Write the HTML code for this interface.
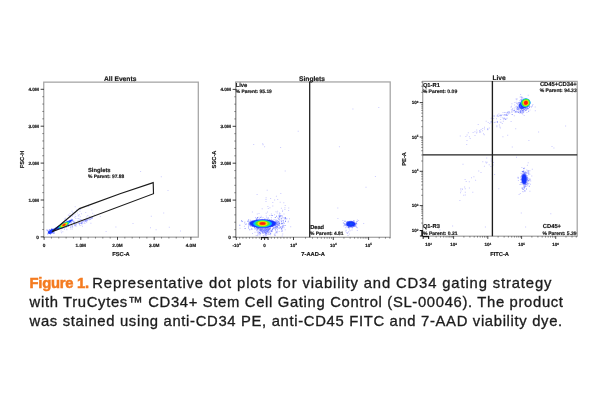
<!DOCTYPE html>
<html><head><meta charset="utf-8"><title>Figure 1</title>
<style>
html,body{margin:0;padding:0;background:#fff;}
body{width:600px;height:400px;position:relative;overflow:hidden;font-family:"Liberation Sans",Arial,sans-serif;}
.cap{position:absolute;left:0;top:0;width:600px;height:400px;will-change:transform;color:#1c1c1c;font-size:14.8px;line-height:18.8px;font-weight:normal;-webkit-text-stroke:0.32px #1c1c1c;}
.cap div{position:absolute;left:29.6px;height:18.8px;white-space:nowrap;}
.cap b{color:#f47b20;-webkit-text-stroke:0.5px #f47b20;letter-spacing:-0.27px;}
</style></head><body>
<svg width="600" height="264" viewBox="0 0 600 264" style="position:absolute;left:0;top:0;will-change:transform" font-family="Liberation Sans, Arial, sans-serif" font-weight="bold" fill="#141414" stroke="#141414" stroke-width="0.16" text-rendering="geometricPrecision">
<defs><filter id="b1" x="-30%" y="-30%" width="160%" height="160%"><feGaussianBlur stdDeviation="0.5"/></filter><filter id="b2" x="-30%" y="-30%" width="160%" height="160%"><feGaussianBlur stdDeviation="0.3"/></filter></defs>
<rect x="43.75" y="82.15" width="154.55" height="155.00" fill="#fff" stroke="#a4a4a4" stroke-width="1.25"/>
<path d="M62.0 227.7h1.0v1.0h-1.0zM93.9 214.6h1.0v1.0h-1.0zM87.3 214.9h1.0v1.0h-1.0zM64.0 224.1h1.0v1.0h-1.0zM65.9 225.5h1.0v1.0h-1.0zM65.0 225.3h1.0v1.0h-1.0zM69.5 213.3h1.0v1.0h-1.0zM76.3 223.0h1.0v1.0h-1.0zM81.5 223.5h1.0v1.0h-1.0zM63.4 226.3h1.0v1.0h-1.0zM60.1 226.7h1.0v1.0h-1.0zM61.9 225.4h1.0v1.0h-1.0zM62.5 223.2h1.0v1.0h-1.0zM61.2 224.5h1.0v1.0h-1.0zM67.6 224.3h1.0v1.0h-1.0zM75.3 218.0h1.0v1.0h-1.0zM77.8 215.6h1.0v1.0h-1.0zM73.2 219.8h1.0v1.0h-1.0zM80.9 213.2h1.0v1.0h-1.0zM60.5 224.8h1.0v1.0h-1.0zM59.8 226.7h1.0v1.0h-1.0zM62.2 226.2h1.0v1.0h-1.0zM67.1 223.6h1.0v1.0h-1.0zM80.7 219.0h1.0v1.0h-1.0zM77.5 218.1h1.0v1.0h-1.0zM92.2 212.8h1.0v1.0h-1.0zM59.1 225.8h1.0v1.0h-1.0zM85.2 212.1h1.0v1.0h-1.0zM60.3 227.8h1.0v1.0h-1.0zM63.3 226.5h1.0v1.0h-1.0zM61.0 228.2h1.0v1.0h-1.0zM70.7 222.2h1.0v1.0h-1.0zM71.3 219.0h1.0v1.0h-1.0zM78.5 218.2h1.0v1.0h-1.0zM77.5 221.6h1.0v1.0h-1.0zM74.3 216.8h1.0v1.0h-1.0zM66.0 220.2h1.0v1.0h-1.0zM63.7 225.3h1.0v1.0h-1.0zM67.5 224.3h1.0v1.0h-1.0zM65.2 224.2h1.0v1.0h-1.0zM79.7 216.2h1.0v1.0h-1.0zM62.6 225.6h1.0v1.0h-1.0zM61.1 225.5h1.0v1.0h-1.0zM63.1 222.8h1.0v1.0h-1.0zM73.2 221.2h1.0v1.0h-1.0zM77.6 220.1h1.0v1.0h-1.0zM64.5 223.2h1.0v1.0h-1.0zM85.5 218.8h1.0v1.0h-1.0zM68.2 224.2h1.0v1.0h-1.0zM91.3 209.4h1.0v1.0h-1.0zM64.4 224.5h1.0v1.0h-1.0zM60.1 227.1h1.0v1.0h-1.0zM60.5 227.6h1.0v1.0h-1.0zM65.0 225.9h1.0v1.0h-1.0zM86.3 216.4h1.0v1.0h-1.0zM67.3 223.1h1.0v1.0h-1.0zM79.6 219.2h1.0v1.0h-1.0zM65.0 225.4h1.0v1.0h-1.0zM79.8 218.9h1.0v1.0h-1.0zM75.2 216.1h1.0v1.0h-1.0zM71.2 218.5h1.0v1.0h-1.0zM61.8 226.7h1.0v1.0h-1.0zM79.3 220.0h1.0v1.0h-1.0zM88.1 205.9h1.0v1.0h-1.0zM77.9 215.4h1.0v1.0h-1.0zM72.0 219.5h1.0v1.0h-1.0zM65.7 224.5h1.0v1.0h-1.0zM85.1 219.7h1.0v1.0h-1.0zM70.7 222.8h1.0v1.0h-1.0zM76.4 222.6h1.0v1.0h-1.0zM88.9 216.1h1.0v1.0h-1.0zM65.4 224.5h1.0v1.0h-1.0zM73.5 222.2h1.0v1.0h-1.0zM67.0 222.5h1.0v1.0h-1.0zM68.2 224.0h1.0v1.0h-1.0zM67.9 224.5h1.0v1.0h-1.0zM62.0 226.3h1.0v1.0h-1.0zM78.9 214.3h1.0v1.0h-1.0zM71.5 210.8h1.0v1.0h-1.0zM59.9 225.8h1.0v1.0h-1.0zM60.9 232.2h1.0v1.0h-1.0zM70.3 228.5h1.0v1.0h-1.0zM76.1 225.5h1.0v1.0h-1.0zM75.0 225.2h1.0v1.0h-1.0zM63.9 229.1h1.0v1.0h-1.0zM82.0 225.8h1.0v1.0h-1.0zM80.3 225.0h1.0v1.0h-1.0zM99.8 216.0h1.0v1.0h-1.0zM85.5 221.2h1.0v1.0h-1.0zM83.9 222.2h1.0v1.0h-1.0zM90.4 222.7h1.0v1.0h-1.0zM66.4 229.2h1.0v1.0h-1.0zM78.9 224.4h1.0v1.0h-1.0zM84.4 223.0h1.0v1.0h-1.0zM62.3 231.3h1.0v1.0h-1.0zM81.1 223.2h1.0v1.0h-1.0zM83.9 222.4h1.0v1.0h-1.0zM86.2 221.7h1.0v1.0h-1.0zM82.4 222.7h1.0v1.0h-1.0zM71.8 228.6h1.0v1.0h-1.0zM60.6 230.4h1.0v1.0h-1.0zM66.3 228.7h1.0v1.0h-1.0zM77.7 214.5h1.0v1.0h-1.0zM80.0 209.1h1.0v1.0h-1.0zM79.4 210.7h1.0v1.0h-1.0zM72.1 215.4h1.0v1.0h-1.0zM68.1 214.8h1.0v1.0h-1.0zM72.4 214.6h1.0v1.0h-1.0zM62.3 221.9h1.0v1.0h-1.0zM69.1 215.0h1.0v1.0h-1.0zM67.8 214.5h1.0v1.0h-1.0zM74.8 212.2h1.0v1.0h-1.0zM76.2 209.3h1.0v1.0h-1.0zM72.2 212.2h1.0v1.0h-1.0zM72.3 214.3h1.0v1.0h-1.0zM74.7 206.2h1.0v1.0h-1.0zM63.2 222.8h1.0v1.0h-1.0zM71.7 215.8h1.0v1.0h-1.0zM74.5 214.3h1.0v1.0h-1.0zM63.9 218.6h1.0v1.0h-1.0zM76.3 210.0h1.0v1.0h-1.0zM76.8 212.6h1.0v1.0h-1.0zM65.0 217.8h1.0v1.0h-1.0zM67.4 220.5h1.0v1.0h-1.0zM79.4 209.1h1.0v1.0h-1.0zM63.0 221.5h1.0v1.0h-1.0zM69.7 216.8h1.0v1.0h-1.0zM65.2 220.6h1.0v1.0h-1.0zM163.2 212.6h1.0v1.0h-1.0zM105.6 231.0h1.0v1.0h-1.0zM150.8 215.8h1.0v1.0h-1.0zM132.5 223.1h1.0v1.0h-1.0zM155.6 229.3h1.0v1.0h-1.0zM115.4 226.4h1.0v1.0h-1.0zM150.0 227.3h1.0v1.0h-1.0zM168.8 226.7h1.0v1.0h-1.0zM180.0 230.6h1.0v1.0h-1.0zM160.8 176.2h1.0v1.0h-1.0zM167.5 190.1h1.0v1.0h-1.0zM140.1 171.0h1.0v1.0h-1.0z" fill="#5656ff" fill-opacity="0.3" stroke="none"/>
<path d="M65.6 227.1h1.0v1.0h-1.0zM65.9 225.2h1.0v1.0h-1.0zM60.7 227.0h1.0v1.0h-1.0zM60.3 226.5h1.0v1.0h-1.0zM61.6 227.5h1.0v1.0h-1.0zM65.3 223.3h1.0v1.0h-1.0zM60.0 227.1h1.0v1.0h-1.0zM62.7 225.6h1.0v1.0h-1.0zM70.4 219.6h1.0v1.0h-1.0zM59.1 226.3h1.0v1.0h-1.0zM63.5 224.6h1.0v1.0h-1.0zM67.5 222.8h1.0v1.0h-1.0zM70.4 220.2h1.0v1.0h-1.0zM61.8 227.4h1.0v1.0h-1.0zM70.5 222.2h1.0v1.0h-1.0zM67.3 221.7h1.0v1.0h-1.0zM73.2 221.4h1.0v1.0h-1.0zM65.6 219.7h1.0v1.0h-1.0zM63.0 225.7h1.0v1.0h-1.0zM66.4 223.0h1.0v1.0h-1.0zM64.5 223.6h1.0v1.0h-1.0zM64.5 225.6h1.0v1.0h-1.0zM60.1 226.6h1.0v1.0h-1.0zM65.6 222.7h1.0v1.0h-1.0zM61.2 225.7h1.0v1.0h-1.0zM60.3 227.0h1.0v1.0h-1.0zM63.7 225.8h1.0v1.0h-1.0zM67.5 225.2h1.0v1.0h-1.0zM67.0 224.5h1.0v1.0h-1.0zM67.7 224.1h1.0v1.0h-1.0zM67.8 225.9h1.0v1.0h-1.0zM70.0 220.1h1.0v1.0h-1.0zM63.1 225.9h1.0v1.0h-1.0zM62.3 224.9h1.0v1.0h-1.0zM62.1 225.5h1.0v1.0h-1.0zM61.2 225.5h1.0v1.0h-1.0zM66.9 224.4h1.0v1.0h-1.0zM60.2 225.5h1.0v1.0h-1.0zM59.9 227.0h1.0v1.0h-1.0zM68.6 221.7h1.0v1.0h-1.0zM59.5 226.6h1.0v1.0h-1.0zM69.3 221.3h1.0v1.0h-1.0zM68.5 221.0h1.0v1.0h-1.0zM59.9 225.9h1.0v1.0h-1.0zM74.2 221.7h1.0v1.0h-1.0zM72.3 220.7h1.0v1.0h-1.0zM60.8 227.5h1.0v1.0h-1.0zM66.0 223.7h1.0v1.0h-1.0zM73.9 222.2h1.0v1.0h-1.0zM60.6 226.1h1.0v1.0h-1.0zM64.9 223.9h1.0v1.0h-1.0zM65.8 224.2h1.0v1.0h-1.0zM66.9 224.9h1.0v1.0h-1.0zM62.8 224.1h1.0v1.0h-1.0zM61.7 226.5h1.0v1.0h-1.0zM65.6 224.3h1.0v1.0h-1.0zM60.5 227.4h1.0v1.0h-1.0zM62.5 222.8h1.0v1.0h-1.0zM65.2 225.2h1.0v1.0h-1.0zM63.7 223.9h1.0v1.0h-1.0zM63.7 227.6h1.0v1.0h-1.0zM60.1 227.4h1.0v1.0h-1.0zM62.0 226.5h1.0v1.0h-1.0zM68.0 224.2h1.0v1.0h-1.0zM69.3 220.2h1.0v1.0h-1.0zM61.1 225.7h1.0v1.0h-1.0zM64.8 225.6h1.0v1.0h-1.0zM60.8 226.0h1.0v1.0h-1.0zM63.6 227.5h1.0v1.0h-1.0zM60.9 226.6h1.0v1.0h-1.0zM79.3 222.6h1.0v1.0h-1.0zM78.9 222.4h1.0v1.0h-1.0zM85.1 220.7h1.0v1.0h-1.0zM85.0 220.4h1.0v1.0h-1.0zM90.1 218.7h1.0v1.0h-1.0zM81.1 221.8h1.0v1.0h-1.0zM86.7 218.8h1.0v1.0h-1.0zM74.2 224.4h1.0v1.0h-1.0zM71.6 225.6h1.0v1.0h-1.0zM82.1 221.5h1.0v1.0h-1.0zM81.3 221.4h1.0v1.0h-1.0zM74.1 224.3h1.0v1.0h-1.0zM74.5 225.3h1.0v1.0h-1.0zM90.4 216.8h1.0v1.0h-1.0zM72.1 226.6h1.0v1.0h-1.0zM80.2 222.7h1.0v1.0h-1.0zM86.8 219.4h1.0v1.0h-1.0zM81.3 222.3h1.0v1.0h-1.0zM79.5 222.4h1.0v1.0h-1.0zM85.4 220.1h1.0v1.0h-1.0zM88.6 219.3h1.0v1.0h-1.0zM86.3 220.5h1.0v1.0h-1.0zM78.9 222.8h1.0v1.0h-1.0zM81.3 222.1h1.0v1.0h-1.0zM70.3 226.7h1.0v1.0h-1.0zM85.5 219.5h1.0v1.0h-1.0zM88.9 218.5h1.0v1.0h-1.0zM83.2 220.6h1.0v1.0h-1.0zM81.1 222.9h1.0v1.0h-1.0zM75.7 223.8h1.0v1.0h-1.0zM90.0 218.4h1.0v1.0h-1.0zM87.9 218.2h1.0v1.0h-1.0zM78.9 223.6h1.0v1.0h-1.0zM85.3 219.5h1.0v1.0h-1.0zM86.9 219.7h1.0v1.0h-1.0zM85.9 219.4h1.0v1.0h-1.0zM71.6 225.1h1.0v1.0h-1.0zM70.2 226.5h1.0v1.0h-1.0zM77.8 222.5h1.0v1.0h-1.0zM75.1 223.4h1.0v1.0h-1.0zM90.8 217.9h1.0v1.0h-1.0zM84.5 220.1h1.0v1.0h-1.0zM82.5 220.7h1.0v1.0h-1.0zM92.0 217.6h1.0v1.0h-1.0zM84.1 220.4h1.0v1.0h-1.0zM91.6 216.9h1.0v1.0h-1.0zM49.9 233.7h1.0v1.0h-1.0zM50.4 230.1h1.0v1.0h-1.0zM52.2 232.5h1.0v1.0h-1.0zM50.7 229.8h1.0v1.0h-1.0zM53.3 233.0h1.0v1.0h-1.0zM46.9 229.8h1.0v1.0h-1.0zM55.1 230.0h1.0v1.0h-1.0zM47.7 232.4h1.0v1.0h-1.0zM50.4 232.6h1.0v1.0h-1.0zM47.2 233.5h1.0v1.0h-1.0zM52.2 230.6h1.0v1.0h-1.0zM49.8 232.5h1.0v1.0h-1.0zM49.7 232.5h1.0v1.0h-1.0zM50.0 232.0h1.0v1.0h-1.0zM47.7 230.2h1.0v1.0h-1.0zM47.3 230.5h1.0v1.0h-1.0zM49.8 230.9h1.0v1.0h-1.0zM51.2 228.0h1.0v1.0h-1.0zM50.9 231.6h1.0v1.0h-1.0zM48.5 231.1h1.0v1.0h-1.0zM46.3 229.6h1.0v1.0h-1.0zM48.9 228.9h1.0v1.0h-1.0zM53.3 232.1h1.0v1.0h-1.0zM51.2 230.6h1.0v1.0h-1.0zM53.8 232.6h1.0v1.0h-1.0zM51.7 230.9h1.0v1.0h-1.0zM50.3 230.6h1.0v1.0h-1.0zM50.9 229.0h1.0v1.0h-1.0zM51.0 232.4h1.0v1.0h-1.0zM51.2 229.4h1.0v1.0h-1.0z" fill="#3c46ff" fill-opacity="0.5" stroke="none"/>
<g filter="url(#b1)">
<ellipse cx="51.30" cy="231.40" rx="3.70" ry="1.80" fill="#1434ff" fill-opacity="1" stroke="none" transform="rotate(-30 51.30 231.40)"/>
<ellipse cx="61.50" cy="225.90" rx="13.00" ry="1.55" fill="#1434ff" fill-opacity="0.9" stroke="none" transform="rotate(-28.5 61.50 225.90)"/>
<ellipse cx="63.50" cy="225.00" rx="8.20" ry="1.60" fill="#1434ff" fill-opacity="1" stroke="none" transform="rotate(-28.5 63.50 225.00)"/>
</g><g filter="url(#b2)">
<ellipse cx="64.00" cy="224.90" rx="6.60" ry="1.75" fill="#00b0ff" fill-opacity="1" stroke="none" transform="rotate(-28.5 64.00 224.90)"/>
<ellipse cx="64.00" cy="224.90" rx="5.60" ry="1.60" fill="#18dcb0" fill-opacity="1" stroke="none" transform="rotate(-28.5 64.00 224.90)"/>
<ellipse cx="64.00" cy="224.90" rx="4.70" ry="1.45" fill="#62e426" fill-opacity="1" stroke="none" transform="rotate(-28.5 64.00 224.90)"/>
<ellipse cx="64.00" cy="224.90" rx="3.50" ry="1.25" fill="#f2ee00" fill-opacity="1" stroke="none" transform="rotate(-28.5 64.00 224.90)"/>
<ellipse cx="64.00" cy="224.90" rx="2.40" ry="1.05" fill="#ff8400" fill-opacity="1" stroke="none" transform="rotate(-28.5 64.00 224.90)"/>
<ellipse cx="64.00" cy="224.90" rx="1.50" ry="0.85" fill="#ff1a0c" fill-opacity="1" stroke="none" transform="rotate(-28.5 64.00 224.90)"/>
</g>
<polygon points="52.0,231.8 79.5,208.6 120,193.8 153.2,182.6 153.5,193.7" fill="none" stroke="#1a1a1a" stroke-width="1.15" stroke-linejoin="miter"/>
<text x="88.00" y="171.70" font-size="5.8" text-anchor="start" >Singlets</text>
<text x="88.00" y="177.50" font-size="4.9" text-anchor="start" >% Parent: 97.88</text>
<text x="120.20" y="80.80" font-size="6.7" text-anchor="middle" >All Events</text>
<line x1="40.65" y1="236.90" x2="43.95" y2="236.90" stroke="#1a1a1a" stroke-width="0.85"/>
<text x="38.85" y="238.65" font-size="4.7" text-anchor="end" >0</text>
<line x1="42.25" y1="229.52" x2="43.95" y2="229.52" stroke="#444" stroke-width="0.6"/>
<line x1="42.25" y1="222.14" x2="43.95" y2="222.14" stroke="#444" stroke-width="0.6"/>
<line x1="42.25" y1="214.76" x2="43.95" y2="214.76" stroke="#444" stroke-width="0.6"/>
<line x1="42.25" y1="207.38" x2="43.95" y2="207.38" stroke="#444" stroke-width="0.6"/>
<line x1="40.65" y1="200.00" x2="43.95" y2="200.00" stroke="#1a1a1a" stroke-width="0.85"/>
<text x="38.85" y="201.75" font-size="4.7" text-anchor="end" >1.0M</text>
<line x1="42.25" y1="192.62" x2="43.95" y2="192.62" stroke="#444" stroke-width="0.6"/>
<line x1="42.25" y1="185.24" x2="43.95" y2="185.24" stroke="#444" stroke-width="0.6"/>
<line x1="42.25" y1="177.86" x2="43.95" y2="177.86" stroke="#444" stroke-width="0.6"/>
<line x1="42.25" y1="170.48" x2="43.95" y2="170.48" stroke="#444" stroke-width="0.6"/>
<line x1="40.65" y1="163.10" x2="43.95" y2="163.10" stroke="#1a1a1a" stroke-width="0.85"/>
<text x="38.85" y="164.85" font-size="4.7" text-anchor="end" >2.0M</text>
<line x1="42.25" y1="155.72" x2="43.95" y2="155.72" stroke="#444" stroke-width="0.6"/>
<line x1="42.25" y1="148.34" x2="43.95" y2="148.34" stroke="#444" stroke-width="0.6"/>
<line x1="42.25" y1="140.96" x2="43.95" y2="140.96" stroke="#444" stroke-width="0.6"/>
<line x1="42.25" y1="133.58" x2="43.95" y2="133.58" stroke="#444" stroke-width="0.6"/>
<line x1="40.65" y1="126.20" x2="43.95" y2="126.20" stroke="#1a1a1a" stroke-width="0.85"/>
<text x="38.85" y="127.95" font-size="4.7" text-anchor="end" >3.0M</text>
<line x1="42.25" y1="118.82" x2="43.95" y2="118.82" stroke="#444" stroke-width="0.6"/>
<line x1="42.25" y1="111.44" x2="43.95" y2="111.44" stroke="#444" stroke-width="0.6"/>
<line x1="42.25" y1="104.06" x2="43.95" y2="104.06" stroke="#444" stroke-width="0.6"/>
<line x1="42.25" y1="96.68" x2="43.95" y2="96.68" stroke="#444" stroke-width="0.6"/>
<line x1="40.65" y1="89.30" x2="43.95" y2="89.30" stroke="#1a1a1a" stroke-width="0.85"/>
<text x="38.85" y="91.05" font-size="4.7" text-anchor="end" >4.0M</text>
<line x1="44.10" y1="236.95" x2="44.10" y2="239.85" stroke="#1a1a1a" stroke-width="0.8"/>
<text x="44.10" y="246.70" font-size="4.7" text-anchor="middle" >0</text>
<line x1="51.44" y1="236.95" x2="51.44" y2="238.55" stroke="#444" stroke-width="0.6"/>
<line x1="58.78" y1="236.95" x2="58.78" y2="238.55" stroke="#444" stroke-width="0.6"/>
<line x1="66.12" y1="236.95" x2="66.12" y2="238.55" stroke="#444" stroke-width="0.6"/>
<line x1="73.46" y1="236.95" x2="73.46" y2="238.55" stroke="#444" stroke-width="0.6"/>
<line x1="80.80" y1="236.95" x2="80.80" y2="239.85" stroke="#1a1a1a" stroke-width="0.8"/>
<text x="80.80" y="246.70" font-size="4.7" text-anchor="middle" >1.0M</text>
<line x1="88.14" y1="236.95" x2="88.14" y2="238.55" stroke="#444" stroke-width="0.6"/>
<line x1="95.48" y1="236.95" x2="95.48" y2="238.55" stroke="#444" stroke-width="0.6"/>
<line x1="102.82" y1="236.95" x2="102.82" y2="238.55" stroke="#444" stroke-width="0.6"/>
<line x1="110.16" y1="236.95" x2="110.16" y2="238.55" stroke="#444" stroke-width="0.6"/>
<line x1="117.50" y1="236.95" x2="117.50" y2="239.85" stroke="#1a1a1a" stroke-width="0.8"/>
<text x="117.50" y="246.70" font-size="4.7" text-anchor="middle" >2.0M</text>
<line x1="124.84" y1="236.95" x2="124.84" y2="238.55" stroke="#444" stroke-width="0.6"/>
<line x1="132.18" y1="236.95" x2="132.18" y2="238.55" stroke="#444" stroke-width="0.6"/>
<line x1="139.52" y1="236.95" x2="139.52" y2="238.55" stroke="#444" stroke-width="0.6"/>
<line x1="146.86" y1="236.95" x2="146.86" y2="238.55" stroke="#444" stroke-width="0.6"/>
<line x1="154.20" y1="236.95" x2="154.20" y2="239.85" stroke="#1a1a1a" stroke-width="0.8"/>
<text x="154.20" y="246.70" font-size="4.7" text-anchor="middle" >3.0M</text>
<line x1="161.54" y1="236.95" x2="161.54" y2="238.55" stroke="#444" stroke-width="0.6"/>
<line x1="168.88" y1="236.95" x2="168.88" y2="238.55" stroke="#444" stroke-width="0.6"/>
<line x1="176.22" y1="236.95" x2="176.22" y2="238.55" stroke="#444" stroke-width="0.6"/>
<line x1="183.56" y1="236.95" x2="183.56" y2="238.55" stroke="#444" stroke-width="0.6"/>
<line x1="190.90" y1="236.95" x2="190.90" y2="239.85" stroke="#1a1a1a" stroke-width="0.8"/>
<text x="190.90" y="246.70" font-size="4.7" text-anchor="middle" >4.0M</text>
<text x="121.00" y="256.40" font-size="5.75" text-anchor="middle" >FSC-A</text>
<text x="0.00" y="0.00" font-size="5.75" text-anchor="middle" transform="translate(23.5 159.5) rotate(-90)">FSC-H</text>
<rect x="235.75" y="81.95" width="154.45" height="155.35" fill="#fff" stroke="#a4a4a4" stroke-width="1.25"/>
<path d="M272.2 228.8h1.0v1.0h-1.0zM271.9 223.6h1.0v1.0h-1.0zM266.7 226.0h1.0v1.0h-1.0zM257.9 225.2h1.0v1.0h-1.0zM266.8 223.5h1.0v1.0h-1.0zM262.5 225.6h1.0v1.0h-1.0zM255.5 218.5h1.0v1.0h-1.0zM265.3 225.0h1.0v1.0h-1.0zM253.5 225.1h1.0v1.0h-1.0zM265.9 223.2h1.0v1.0h-1.0zM268.1 225.3h1.0v1.0h-1.0zM265.2 226.5h1.0v1.0h-1.0zM261.7 218.8h1.0v1.0h-1.0zM264.9 226.2h1.0v1.0h-1.0zM263.0 226.1h1.0v1.0h-1.0zM264.3 220.5h1.0v1.0h-1.0zM249.6 221.7h1.0v1.0h-1.0zM257.7 224.2h1.0v1.0h-1.0zM277.8 218.3h1.0v1.0h-1.0zM258.4 227.8h1.0v1.0h-1.0zM273.1 222.6h1.0v1.0h-1.0zM264.5 225.0h1.0v1.0h-1.0zM277.9 221.6h1.0v1.0h-1.0zM256.5 226.9h1.0v1.0h-1.0zM257.5 223.5h1.0v1.0h-1.0zM276.0 223.5h1.0v1.0h-1.0zM264.1 224.4h1.0v1.0h-1.0zM256.2 224.4h1.0v1.0h-1.0zM267.8 218.1h1.0v1.0h-1.0zM260.2 222.4h1.0v1.0h-1.0zM268.0 226.6h1.0v1.0h-1.0zM263.0 231.5h1.0v1.0h-1.0zM252.4 223.3h1.0v1.0h-1.0zM270.5 223.7h1.0v1.0h-1.0zM259.4 223.3h1.0v1.0h-1.0zM264.1 223.6h1.0v1.0h-1.0zM270.9 217.2h1.0v1.0h-1.0zM265.5 222.4h1.0v1.0h-1.0zM262.4 229.8h1.0v1.0h-1.0zM271.7 226.3h1.0v1.0h-1.0zM243.9 225.7h1.0v1.0h-1.0zM250.2 219.9h1.0v1.0h-1.0zM259.2 230.1h1.0v1.0h-1.0zM248.1 228.0h1.0v1.0h-1.0zM276.9 227.6h1.0v1.0h-1.0zM266.7 228.4h1.0v1.0h-1.0zM259.3 223.4h1.0v1.0h-1.0zM267.5 220.9h1.0v1.0h-1.0zM262.8 225.2h1.0v1.0h-1.0zM260.8 227.8h1.0v1.0h-1.0zM262.3 220.3h1.0v1.0h-1.0zM262.5 222.1h1.0v1.0h-1.0zM256.8 226.4h1.0v1.0h-1.0zM279.1 222.3h1.0v1.0h-1.0zM263.3 223.3h1.0v1.0h-1.0zM254.8 228.0h1.0v1.0h-1.0zM264.8 228.7h1.0v1.0h-1.0zM262.9 223.9h1.0v1.0h-1.0zM278.7 223.4h1.0v1.0h-1.0zM267.0 228.9h1.0v1.0h-1.0zM262.0 227.4h1.0v1.0h-1.0zM257.3 223.0h1.0v1.0h-1.0zM259.7 227.0h1.0v1.0h-1.0zM260.8 221.3h1.0v1.0h-1.0zM268.1 229.7h1.0v1.0h-1.0zM254.5 231.8h1.0v1.0h-1.0zM251.9 221.5h1.0v1.0h-1.0zM256.5 230.0h1.0v1.0h-1.0zM267.8 224.9h1.0v1.0h-1.0zM274.2 227.0h1.0v1.0h-1.0zM262.7 221.5h1.0v1.0h-1.0zM251.2 228.0h1.0v1.0h-1.0zM261.0 222.9h1.0v1.0h-1.0zM264.7 226.0h1.0v1.0h-1.0zM270.0 226.5h1.0v1.0h-1.0zM280.6 227.6h1.0v1.0h-1.0zM255.2 225.8h1.0v1.0h-1.0zM255.6 218.6h1.0v1.0h-1.0zM267.5 220.4h1.0v1.0h-1.0zM259.9 227.2h1.0v1.0h-1.0zM272.3 224.2h1.0v1.0h-1.0zM256.8 213.6h1.0v1.0h-1.0zM267.0 218.4h1.0v1.0h-1.0zM262.8 223.3h1.0v1.0h-1.0zM260.3 226.8h1.0v1.0h-1.0zM261.7 222.3h1.0v1.0h-1.0zM257.0 227.0h1.0v1.0h-1.0zM267.7 216.9h1.0v1.0h-1.0zM260.3 222.4h1.0v1.0h-1.0zM265.8 215.6h1.0v1.0h-1.0zM256.7 222.7h1.0v1.0h-1.0zM259.5 223.8h1.0v1.0h-1.0zM258.5 212.9h1.0v1.0h-1.0zM251.1 223.2h1.0v1.0h-1.0zM266.8 221.6h1.0v1.0h-1.0zM274.8 222.0h1.0v1.0h-1.0zM265.1 225.3h1.0v1.0h-1.0zM264.4 228.8h1.0v1.0h-1.0zM261.6 220.6h1.0v1.0h-1.0zM271.0 222.2h1.0v1.0h-1.0zM259.9 224.3h1.0v1.0h-1.0zM268.4 223.5h1.0v1.0h-1.0zM272.5 221.1h1.0v1.0h-1.0zM254.2 222.0h1.0v1.0h-1.0zM262.4 232.1h1.0v1.0h-1.0zM279.1 223.5h1.0v1.0h-1.0zM260.6 222.6h1.0v1.0h-1.0zM267.1 221.0h1.0v1.0h-1.0zM268.9 222.1h1.0v1.0h-1.0zM250.2 220.6h1.0v1.0h-1.0zM268.1 228.2h1.0v1.0h-1.0zM265.9 224.2h1.0v1.0h-1.0zM274.3 233.9h1.0v1.0h-1.0zM275.2 221.7h1.0v1.0h-1.0zM259.7 229.1h1.0v1.0h-1.0zM263.4 220.1h1.0v1.0h-1.0zM251.6 220.1h1.0v1.0h-1.0zM269.4 224.1h1.0v1.0h-1.0zM259.5 224.2h1.0v1.0h-1.0zM256.0 227.0h1.0v1.0h-1.0zM268.6 227.9h1.0v1.0h-1.0zM263.1 228.7h1.0v1.0h-1.0zM258.2 228.5h1.0v1.0h-1.0zM275.9 225.1h1.0v1.0h-1.0zM276.7 231.4h1.0v1.0h-1.0zM256.5 221.3h1.0v1.0h-1.0zM254.3 226.6h1.0v1.0h-1.0zM258.9 217.9h1.0v1.0h-1.0zM264.1 219.4h1.0v1.0h-1.0zM279.6 223.6h1.0v1.0h-1.0zM269.2 220.7h1.0v1.0h-1.0zM254.3 225.8h1.0v1.0h-1.0zM272.3 221.2h1.0v1.0h-1.0zM255.4 223.2h1.0v1.0h-1.0zM269.9 221.9h1.0v1.0h-1.0zM276.4 225.9h1.0v1.0h-1.0zM274.8 220.2h1.0v1.0h-1.0zM252.8 220.2h1.0v1.0h-1.0zM260.3 228.6h1.0v1.0h-1.0zM267.8 224.6h1.0v1.0h-1.0zM254.8 225.3h1.0v1.0h-1.0zM261.9 224.6h1.0v1.0h-1.0zM260.6 219.4h1.0v1.0h-1.0zM264.5 227.0h1.0v1.0h-1.0zM259.2 225.5h1.0v1.0h-1.0zM280.4 227.3h1.0v1.0h-1.0zM275.9 222.6h1.0v1.0h-1.0zM269.7 220.8h1.0v1.0h-1.0zM266.0 221.3h1.0v1.0h-1.0zM263.8 218.9h1.0v1.0h-1.0zM267.1 222.8h1.0v1.0h-1.0zM265.1 221.9h1.0v1.0h-1.0zM244.4 221.6h1.0v1.0h-1.0zM270.1 223.8h1.0v1.0h-1.0zM261.8 227.0h1.0v1.0h-1.0zM280.1 226.9h1.0v1.0h-1.0zM267.3 220.3h1.0v1.0h-1.0zM257.2 227.8h1.0v1.0h-1.0zM266.0 224.1h1.0v1.0h-1.0zM269.7 221.9h1.0v1.0h-1.0zM244.9 223.9h1.0v1.0h-1.0zM273.2 223.2h1.0v1.0h-1.0zM265.9 226.9h1.0v1.0h-1.0zM279.5 220.0h1.0v1.0h-1.0zM269.3 230.6h1.0v1.0h-1.0zM258.4 227.2h1.0v1.0h-1.0zM272.0 230.7h1.0v1.0h-1.0zM269.5 223.7h1.0v1.0h-1.0zM260.4 222.0h1.0v1.0h-1.0zM265.9 223.0h1.0v1.0h-1.0zM274.4 227.6h1.0v1.0h-1.0zM257.2 231.3h1.0v1.0h-1.0zM272.8 219.4h1.0v1.0h-1.0zM272.4 228.2h1.0v1.0h-1.0zM272.2 222.2h1.0v1.0h-1.0zM269.1 225.1h1.0v1.0h-1.0zM259.5 229.4h1.0v1.0h-1.0zM265.7 226.1h1.0v1.0h-1.0zM265.1 229.4h1.0v1.0h-1.0zM266.0 220.2h1.0v1.0h-1.0zM255.1 217.1h1.0v1.0h-1.0zM259.0 222.3h1.0v1.0h-1.0zM258.1 232.0h1.0v1.0h-1.0zM260.7 221.1h1.0v1.0h-1.0zM261.7 222.5h1.0v1.0h-1.0zM272.8 223.4h1.0v1.0h-1.0zM254.1 223.0h1.0v1.0h-1.0zM274.6 225.2h1.0v1.0h-1.0zM262.7 226.6h1.0v1.0h-1.0zM265.1 222.3h1.0v1.0h-1.0zM261.0 230.0h1.0v1.0h-1.0zM264.2 226.9h1.0v1.0h-1.0zM259.0 223.1h1.0v1.0h-1.0zM283.4 217.0h1.0v1.0h-1.0zM272.9 224.7h1.0v1.0h-1.0zM264.0 220.1h1.0v1.0h-1.0zM272.7 221.9h1.0v1.0h-1.0zM268.5 228.2h1.0v1.0h-1.0zM259.3 221.0h1.0v1.0h-1.0zM256.2 218.2h1.0v1.0h-1.0zM254.3 223.3h1.0v1.0h-1.0zM271.0 219.0h1.0v1.0h-1.0zM244.0 222.6h1.0v1.0h-1.0zM270.6 229.7h1.0v1.0h-1.0zM269.7 228.3h1.0v1.0h-1.0zM264.8 227.9h1.0v1.0h-1.0zM266.1 217.2h1.0v1.0h-1.0zM265.5 221.1h1.0v1.0h-1.0zM258.2 224.0h1.0v1.0h-1.0zM255.6 221.6h1.0v1.0h-1.0zM274.8 224.9h1.0v1.0h-1.0zM261.6 219.0h1.0v1.0h-1.0zM267.6 222.1h1.0v1.0h-1.0zM264.9 224.4h1.0v1.0h-1.0zM255.2 223.9h1.0v1.0h-1.0zM258.0 224.9h1.0v1.0h-1.0zM265.0 222.4h1.0v1.0h-1.0zM272.9 221.1h1.0v1.0h-1.0zM250.0 222.0h1.0v1.0h-1.0zM264.3 225.9h1.0v1.0h-1.0zM263.1 224.8h1.0v1.0h-1.0zM259.5 228.7h1.0v1.0h-1.0zM257.7 223.3h1.0v1.0h-1.0zM261.0 222.9h1.0v1.0h-1.0zM266.2 221.7h1.0v1.0h-1.0zM263.9 226.0h1.0v1.0h-1.0zM258.4 217.1h1.0v1.0h-1.0zM264.7 222.5h1.0v1.0h-1.0zM257.4 225.7h1.0v1.0h-1.0zM268.6 233.7h1.0v1.0h-1.0zM273.2 225.0h1.0v1.0h-1.0zM265.7 212.7h1.0v1.0h-1.0zM269.6 227.1h1.0v1.0h-1.0zM263.9 222.7h1.0v1.0h-1.0zM265.0 231.8h1.0v1.0h-1.0zM269.2 226.7h1.0v1.0h-1.0zM261.4 227.6h1.0v1.0h-1.0zM265.9 224.3h1.0v1.0h-1.0zM277.9 223.6h1.0v1.0h-1.0zM263.4 221.1h1.0v1.0h-1.0zM263.8 228.6h1.0v1.0h-1.0zM264.5 228.0h1.0v1.0h-1.0zM271.1 222.3h1.0v1.0h-1.0zM252.0 233.0h1.0v1.0h-1.0zM262.2 223.1h1.0v1.0h-1.0zM254.3 226.9h1.0v1.0h-1.0zM271.0 225.1h1.0v1.0h-1.0zM258.4 216.7h1.0v1.0h-1.0zM249.6 219.5h1.0v1.0h-1.0zM256.0 224.7h1.0v1.0h-1.0zM268.4 220.7h1.0v1.0h-1.0zM265.1 221.2h1.0v1.0h-1.0zM261.0 225.8h1.0v1.0h-1.0zM259.3 223.1h1.0v1.0h-1.0zM265.6 226.3h1.0v1.0h-1.0zM257.1 224.5h1.0v1.0h-1.0zM239.5 227.7h1.0v1.0h-1.0zM257.0 217.0h1.0v1.0h-1.0zM266.3 227.4h1.0v1.0h-1.0zM275.3 226.4h1.0v1.0h-1.0zM262.4 232.4h1.0v1.0h-1.0zM268.1 230.7h1.0v1.0h-1.0zM264.6 233.7h1.0v1.0h-1.0zM272.0 228.2h1.0v1.0h-1.0zM264.4 233.5h1.0v1.0h-1.0zM259.6 234.7h1.0v1.0h-1.0zM263.2 223.6h1.0v1.0h-1.0zM269.4 230.9h1.0v1.0h-1.0zM263.4 231.4h1.0v1.0h-1.0zM268.3 228.6h1.0v1.0h-1.0zM265.8 226.7h1.0v1.0h-1.0zM269.7 231.6h1.0v1.0h-1.0zM265.1 231.4h1.0v1.0h-1.0zM268.9 234.0h1.0v1.0h-1.0zM269.2 231.0h1.0v1.0h-1.0zM259.4 232.3h1.0v1.0h-1.0zM270.1 234.3h1.0v1.0h-1.0zM264.5 235.6h1.0v1.0h-1.0zM263.6 228.9h1.0v1.0h-1.0zM266.1 233.0h1.0v1.0h-1.0zM263.8 227.3h1.0v1.0h-1.0zM257.4 234.7h1.0v1.0h-1.0zM265.6 233.1h1.0v1.0h-1.0zM263.0 232.3h1.0v1.0h-1.0zM266.1 230.7h1.0v1.0h-1.0zM260.6 227.5h1.0v1.0h-1.0zM269.9 222.4h1.0v1.0h-1.0zM262.8 235.1h1.0v1.0h-1.0zM268.0 229.4h1.0v1.0h-1.0zM262.2 226.1h1.0v1.0h-1.0zM274.7 228.7h1.0v1.0h-1.0zM265.7 235.0h1.0v1.0h-1.0zM269.5 232.3h1.0v1.0h-1.0zM263.6 231.2h1.0v1.0h-1.0zM261.7 232.4h1.0v1.0h-1.0zM260.9 230.5h1.0v1.0h-1.0zM267.8 233.2h1.0v1.0h-1.0zM262.0 230.8h1.0v1.0h-1.0zM263.1 228.5h1.0v1.0h-1.0zM268.8 232.1h1.0v1.0h-1.0zM262.5 231.4h1.0v1.0h-1.0zM258.3 228.0h1.0v1.0h-1.0zM257.7 228.9h1.0v1.0h-1.0zM269.9 231.0h1.0v1.0h-1.0zM263.8 231.4h1.0v1.0h-1.0zM263.6 231.1h1.0v1.0h-1.0zM258.4 230.6h1.0v1.0h-1.0zM260.6 231.1h1.0v1.0h-1.0zM265.0 231.2h1.0v1.0h-1.0zM261.4 229.5h1.0v1.0h-1.0zM263.4 228.7h1.0v1.0h-1.0zM258.2 231.3h1.0v1.0h-1.0zM269.6 229.6h1.0v1.0h-1.0zM254.4 227.0h1.0v1.0h-1.0zM265.9 226.0h1.0v1.0h-1.0zM261.3 228.2h1.0v1.0h-1.0zM261.5 231.8h1.0v1.0h-1.0zM269.9 224.7h1.0v1.0h-1.0zM256.9 235.2h1.0v1.0h-1.0zM267.6 230.9h1.0v1.0h-1.0zM260.7 230.4h1.0v1.0h-1.0zM266.9 232.2h1.0v1.0h-1.0zM266.0 235.3h1.0v1.0h-1.0zM265.0 230.6h1.0v1.0h-1.0zM260.2 229.6h1.0v1.0h-1.0zM265.4 234.2h1.0v1.0h-1.0zM261.3 227.2h1.0v1.0h-1.0zM260.4 227.6h1.0v1.0h-1.0zM271.4 223.1h1.0v1.0h-1.0zM262.7 233.1h1.0v1.0h-1.0zM268.3 228.7h1.0v1.0h-1.0zM263.4 225.7h1.0v1.0h-1.0zM260.0 222.9h1.0v1.0h-1.0zM266.3 228.8h1.0v1.0h-1.0zM260.8 227.9h1.0v1.0h-1.0zM260.6 229.3h1.0v1.0h-1.0zM263.2 235.7h1.0v1.0h-1.0zM261.4 230.0h1.0v1.0h-1.0zM265.0 233.3h1.0v1.0h-1.0zM267.6 234.0h1.0v1.0h-1.0zM266.3 231.3h1.0v1.0h-1.0zM267.1 231.1h1.0v1.0h-1.0zM264.3 229.0h1.0v1.0h-1.0zM256.8 232.1h1.0v1.0h-1.0zM262.0 230.7h1.0v1.0h-1.0zM271.7 225.7h1.0v1.0h-1.0zM268.6 231.3h1.0v1.0h-1.0zM256.1 230.2h1.0v1.0h-1.0zM258.8 233.7h1.0v1.0h-1.0zM264.9 235.6h1.0v1.0h-1.0zM262.9 233.1h1.0v1.0h-1.0zM265.6 224.4h1.0v1.0h-1.0zM268.1 226.9h1.0v1.0h-1.0zM258.1 232.9h1.0v1.0h-1.0zM258.2 226.3h1.0v1.0h-1.0zM265.8 228.9h1.0v1.0h-1.0zM259.7 233.8h1.0v1.0h-1.0zM265.4 232.5h1.0v1.0h-1.0zM271.6 230.9h1.0v1.0h-1.0zM277.4 227.4h1.0v1.0h-1.0zM270.1 234.1h1.0v1.0h-1.0zM258.8 232.7h1.0v1.0h-1.0zM255.7 235.0h1.0v1.0h-1.0zM266.6 230.4h1.0v1.0h-1.0zM264.4 228.9h1.0v1.0h-1.0zM269.0 231.2h1.0v1.0h-1.0zM263.1 220.4h1.0v1.0h-1.0zM268.3 232.5h1.0v1.0h-1.0zM271.2 231.2h1.0v1.0h-1.0zM260.2 230.8h1.0v1.0h-1.0zM267.2 228.3h1.0v1.0h-1.0zM259.6 233.3h1.0v1.0h-1.0zM266.4 221.5h1.0v1.0h-1.0zM259.1 233.7h1.0v1.0h-1.0zM256.4 228.9h1.0v1.0h-1.0zM266.9 232.1h1.0v1.0h-1.0zM274.1 235.1h1.0v1.0h-1.0zM265.0 234.2h1.0v1.0h-1.0zM268.2 232.4h1.0v1.0h-1.0zM271.4 231.0h1.0v1.0h-1.0zM269.3 234.0h1.0v1.0h-1.0zM264.5 232.8h1.0v1.0h-1.0zM260.3 230.8h1.0v1.0h-1.0zM264.9 231.5h1.0v1.0h-1.0zM274.7 233.2h1.0v1.0h-1.0zM264.3 231.7h1.0v1.0h-1.0zM267.4 233.9h1.0v1.0h-1.0zM268.4 230.5h1.0v1.0h-1.0zM268.9 227.8h1.0v1.0h-1.0zM257.2 233.5h1.0v1.0h-1.0zM263.6 231.2h1.0v1.0h-1.0zM258.1 229.0h1.0v1.0h-1.0zM262.1 228.7h1.0v1.0h-1.0zM274.3 228.1h1.0v1.0h-1.0zM270.4 230.4h1.0v1.0h-1.0zM269.0 226.1h1.0v1.0h-1.0zM265.5 231.2h1.0v1.0h-1.0zM266.2 231.9h1.0v1.0h-1.0zM269.2 231.9h1.0v1.0h-1.0zM265.1 227.7h1.0v1.0h-1.0zM264.3 230.5h1.0v1.0h-1.0zM271.1 230.8h1.0v1.0h-1.0zM268.3 225.2h1.0v1.0h-1.0zM264.5 227.3h1.0v1.0h-1.0zM268.1 224.8h1.0v1.0h-1.0zM266.6 221.2h1.0v1.0h-1.0zM274.9 235.1h1.0v1.0h-1.0zM258.6 233.4h1.0v1.0h-1.0zM271.5 231.1h1.0v1.0h-1.0zM265.7 233.6h1.0v1.0h-1.0zM274.5 228.6h1.0v1.0h-1.0zM282.0 211.0h1.0v1.0h-1.0zM276.7 212.6h1.0v1.0h-1.0zM278.9 222.6h1.0v1.0h-1.0zM275.4 231.8h1.0v1.0h-1.0zM282.2 233.4h1.0v1.0h-1.0zM272.0 215.1h1.0v1.0h-1.0zM281.1 222.8h1.0v1.0h-1.0zM283.2 225.5h1.0v1.0h-1.0zM279.3 219.5h1.0v1.0h-1.0zM274.4 218.9h1.0v1.0h-1.0zM277.0 229.1h1.0v1.0h-1.0zM283.6 217.2h1.0v1.0h-1.0zM283.5 213.6h1.0v1.0h-1.0zM280.1 214.7h1.0v1.0h-1.0zM285.8 218.3h1.0v1.0h-1.0zM283.8 217.5h1.0v1.0h-1.0zM272.8 226.7h1.0v1.0h-1.0zM281.9 225.5h1.0v1.0h-1.0zM274.1 199.4h1.0v1.0h-1.0zM278.5 224.1h1.0v1.0h-1.0zM284.7 229.2h1.0v1.0h-1.0zM274.3 228.0h1.0v1.0h-1.0zM281.8 231.1h1.0v1.0h-1.0zM288.2 207.5h1.0v1.0h-1.0zM275.5 211.3h1.0v1.0h-1.0zM277.5 217.2h1.0v1.0h-1.0zM284.4 207.3h1.0v1.0h-1.0zM272.2 222.9h1.0v1.0h-1.0zM275.3 223.3h1.0v1.0h-1.0zM280.9 231.1h1.0v1.0h-1.0zM274.1 214.2h1.0v1.0h-1.0zM287.6 221.5h1.0v1.0h-1.0zM273.0 223.0h1.0v1.0h-1.0zM269.4 207.3h1.0v1.0h-1.0zM283.6 227.3h1.0v1.0h-1.0zM289.0 218.3h1.0v1.0h-1.0zM276.5 232.6h1.0v1.0h-1.0zM285.6 218.4h1.0v1.0h-1.0zM281.9 215.5h1.0v1.0h-1.0zM286.4 218.3h1.0v1.0h-1.0zM272.3 201.9h1.0v1.0h-1.0zM284.7 204.9h1.0v1.0h-1.0zM262.5 216.9h1.0v1.0h-1.0zM290.2 226.2h1.0v1.0h-1.0zM279.0 212.4h1.0v1.0h-1.0zM282.1 209.7h1.0v1.0h-1.0zM269.3 214.9h1.0v1.0h-1.0zM281.5 225.9h1.0v1.0h-1.0zM278.7 216.2h1.0v1.0h-1.0zM270.9 213.6h1.0v1.0h-1.0zM275.9 219.4h1.0v1.0h-1.0zM283.3 202.2h1.0v1.0h-1.0zM280.9 207.7h1.0v1.0h-1.0zM288.1 210.0h1.0v1.0h-1.0zM283.0 226.0h1.0v1.0h-1.0zM281.2 220.5h1.0v1.0h-1.0zM273.8 233.8h1.0v1.0h-1.0zM281.4 215.1h1.0v1.0h-1.0zM282.3 227.1h1.0v1.0h-1.0zM284.4 208.9h1.0v1.0h-1.0zM281.7 217.0h1.0v1.0h-1.0zM283.7 218.5h1.0v1.0h-1.0zM272.3 205.6h1.0v1.0h-1.0zM279.5 213.1h1.0v1.0h-1.0zM277.1 210.7h1.0v1.0h-1.0zM285.0 219.8h1.0v1.0h-1.0zM276.9 230.6h1.0v1.0h-1.0zM278.7 231.0h1.0v1.0h-1.0zM278.8 213.7h1.0v1.0h-1.0zM281.6 216.1h1.0v1.0h-1.0zM267.4 206.1h1.0v1.0h-1.0zM288.0 220.8h1.0v1.0h-1.0zM265.5 199.0h1.0v1.0h-1.0zM281.7 235.6h1.0v1.0h-1.0zM266.7 189.8h1.0v1.0h-1.0zM267.0 211.6h1.0v1.0h-1.0zM267.8 208.1h1.0v1.0h-1.0zM265.6 197.3h1.0v1.0h-1.0zM275.9 195.7h1.0v1.0h-1.0zM261.7 208.2h1.0v1.0h-1.0zM279.7 201.7h1.0v1.0h-1.0zM270.1 198.0h1.0v1.0h-1.0zM265.5 201.1h1.0v1.0h-1.0zM277.2 199.1h1.0v1.0h-1.0zM280.3 193.1h1.0v1.0h-1.0zM251.9 211.5h1.0v1.0h-1.0zM260.7 215.7h1.0v1.0h-1.0zM280.1 147.1h1.0v1.0h-1.0zM253.2 144.0h1.0v1.0h-1.0zM264.1 146.3h1.0v1.0h-1.0zM297.7 130.8h1.0v1.0h-1.0zM284.7 170.6h1.0v1.0h-1.0zM262.2 143.2h1.0v1.0h-1.0zM256.6 194.0h1.0v1.0h-1.0zM262.6 144.2h1.0v1.0h-1.0zM337.3 207.4h1.0v1.0h-1.0zM374.9 175.9h1.0v1.0h-1.0zM352.4 108.6h1.0v1.0h-1.0zM378.3 107.1h1.0v1.0h-1.0zM338.9 146.3h1.0v1.0h-1.0zM365.5 186.7h1.0v1.0h-1.0zM337.4 218.0h1.0v1.0h-1.0zM351.6 224.0h1.0v1.0h-1.0zM347.8 222.0h1.0v1.0h-1.0zM347.9 226.4h1.0v1.0h-1.0zM348.4 227.7h1.0v1.0h-1.0zM342.4 220.0h1.0v1.0h-1.0zM363.2 223.0h1.0v1.0h-1.0zM344.9 227.2h1.0v1.0h-1.0zM347.1 220.9h1.0v1.0h-1.0zM352.3 224.2h1.0v1.0h-1.0zM346.9 224.8h1.0v1.0h-1.0zM349.2 222.7h1.0v1.0h-1.0zM353.5 224.1h1.0v1.0h-1.0zM349.3 225.3h1.0v1.0h-1.0zM345.6 226.8h1.0v1.0h-1.0zM352.9 225.0h1.0v1.0h-1.0zM347.5 221.3h1.0v1.0h-1.0zM350.6 222.2h1.0v1.0h-1.0zM353.2 220.3h1.0v1.0h-1.0zM351.1 222.9h1.0v1.0h-1.0zM350.1 224.3h1.0v1.0h-1.0zM356.9 219.4h1.0v1.0h-1.0zM351.5 223.8h1.0v1.0h-1.0zM347.9 226.8h1.0v1.0h-1.0zM348.9 223.9h1.0v1.0h-1.0zM351.6 222.1h1.0v1.0h-1.0zM348.7 224.1h1.0v1.0h-1.0zM348.9 223.6h1.0v1.0h-1.0zM354.9 225.8h1.0v1.0h-1.0zM348.9 228.5h1.0v1.0h-1.0zM350.9 226.9h1.0v1.0h-1.0zM353.4 224.8h1.0v1.0h-1.0zM345.9 225.2h1.0v1.0h-1.0zM343.3 225.5h1.0v1.0h-1.0zM357.0 227.3h1.0v1.0h-1.0zM356.8 229.9h1.0v1.0h-1.0zM346.8 223.8h1.0v1.0h-1.0zM344.7 220.8h1.0v1.0h-1.0zM354.8 223.6h1.0v1.0h-1.0zM353.1 224.3h1.0v1.0h-1.0zM353.5 220.4h1.0v1.0h-1.0zM350.3 222.7h1.0v1.0h-1.0zM349.9 224.1h1.0v1.0h-1.0zM353.4 225.6h1.0v1.0h-1.0zM356.4 223.4h1.0v1.0h-1.0zM351.5 223.5h1.0v1.0h-1.0zM349.4 224.7h1.0v1.0h-1.0zM350.7 225.5h1.0v1.0h-1.0zM353.9 223.1h1.0v1.0h-1.0zM345.0 224.5h1.0v1.0h-1.0zM358.1 220.1h1.0v1.0h-1.0zM345.8 229.8h1.0v1.0h-1.0zM351.5 229.6h1.0v1.0h-1.0zM347.5 234.9h1.0v1.0h-1.0zM348.9 233.4h1.0v1.0h-1.0zM345.9 232.2h1.0v1.0h-1.0zM347.0 233.1h1.0v1.0h-1.0zM348.1 231.2h1.0v1.0h-1.0zM349.5 230.2h1.0v1.0h-1.0zM345.3 230.5h1.0v1.0h-1.0zM347.3 232.0h1.0v1.0h-1.0z" fill="#5656ff" fill-opacity="0.32" stroke="none"/>
<path d="M269.7 225.4h1.0v1.0h-1.0zM259.1 226.9h1.0v1.0h-1.0zM264.7 228.6h1.0v1.0h-1.0zM261.9 223.8h1.0v1.0h-1.0zM244.6 228.0h1.0v1.0h-1.0zM274.4 224.0h1.0v1.0h-1.0zM270.9 223.1h1.0v1.0h-1.0zM256.3 222.2h1.0v1.0h-1.0zM259.3 227.6h1.0v1.0h-1.0zM256.7 222.5h1.0v1.0h-1.0zM252.8 223.9h1.0v1.0h-1.0zM263.1 222.8h1.0v1.0h-1.0zM268.4 225.0h1.0v1.0h-1.0zM261.1 228.9h1.0v1.0h-1.0zM248.0 226.4h1.0v1.0h-1.0zM257.3 225.2h1.0v1.0h-1.0zM261.5 222.7h1.0v1.0h-1.0zM279.0 223.3h1.0v1.0h-1.0zM259.5 226.0h1.0v1.0h-1.0zM269.3 219.2h1.0v1.0h-1.0zM261.2 223.0h1.0v1.0h-1.0zM263.2 222.9h1.0v1.0h-1.0zM255.4 221.2h1.0v1.0h-1.0zM273.9 222.0h1.0v1.0h-1.0zM282.6 224.7h1.0v1.0h-1.0zM263.2 220.0h1.0v1.0h-1.0zM276.9 224.0h1.0v1.0h-1.0zM251.8 225.9h1.0v1.0h-1.0zM281.9 223.1h1.0v1.0h-1.0zM276.2 226.1h1.0v1.0h-1.0zM249.8 225.6h1.0v1.0h-1.0zM256.3 226.0h1.0v1.0h-1.0zM259.1 224.4h1.0v1.0h-1.0zM257.1 228.1h1.0v1.0h-1.0zM266.8 224.4h1.0v1.0h-1.0zM269.3 220.1h1.0v1.0h-1.0zM259.0 223.4h1.0v1.0h-1.0zM268.4 225.5h1.0v1.0h-1.0zM273.4 222.7h1.0v1.0h-1.0zM268.2 222.9h1.0v1.0h-1.0zM253.9 225.6h1.0v1.0h-1.0zM265.3 222.5h1.0v1.0h-1.0zM269.7 221.5h1.0v1.0h-1.0zM271.9 224.4h1.0v1.0h-1.0zM253.9 226.8h1.0v1.0h-1.0zM271.9 222.3h1.0v1.0h-1.0zM259.9 221.1h1.0v1.0h-1.0zM263.7 222.5h1.0v1.0h-1.0zM262.8 222.1h1.0v1.0h-1.0zM258.1 222.8h1.0v1.0h-1.0zM260.1 225.2h1.0v1.0h-1.0zM256.3 226.9h1.0v1.0h-1.0zM254.6 223.4h1.0v1.0h-1.0zM248.4 221.3h1.0v1.0h-1.0zM255.9 226.8h1.0v1.0h-1.0zM239.3 224.8h1.0v1.0h-1.0zM256.8 227.8h1.0v1.0h-1.0zM263.7 226.0h1.0v1.0h-1.0zM261.6 220.0h1.0v1.0h-1.0zM262.9 224.9h1.0v1.0h-1.0zM266.8 221.3h1.0v1.0h-1.0zM261.1 220.8h1.0v1.0h-1.0zM255.0 221.3h1.0v1.0h-1.0zM281.4 222.8h1.0v1.0h-1.0zM253.6 224.7h1.0v1.0h-1.0zM264.7 228.6h1.0v1.0h-1.0zM268.8 225.3h1.0v1.0h-1.0zM264.3 223.2h1.0v1.0h-1.0zM259.5 220.2h1.0v1.0h-1.0zM255.7 223.0h1.0v1.0h-1.0zM275.1 229.6h1.0v1.0h-1.0zM264.4 218.6h1.0v1.0h-1.0zM275.2 226.7h1.0v1.0h-1.0zM264.1 225.7h1.0v1.0h-1.0zM251.6 222.9h1.0v1.0h-1.0zM273.5 227.2h1.0v1.0h-1.0zM247.2 220.7h1.0v1.0h-1.0zM274.5 221.8h1.0v1.0h-1.0zM249.3 229.2h1.0v1.0h-1.0zM261.6 221.4h1.0v1.0h-1.0zM271.6 220.2h1.0v1.0h-1.0zM262.4 226.0h1.0v1.0h-1.0zM273.5 224.3h1.0v1.0h-1.0zM262.8 226.2h1.0v1.0h-1.0zM262.9 225.3h1.0v1.0h-1.0zM256.2 224.0h1.0v1.0h-1.0zM261.5 226.1h1.0v1.0h-1.0zM245.7 223.5h1.0v1.0h-1.0zM272.0 228.7h1.0v1.0h-1.0zM270.1 220.7h1.0v1.0h-1.0zM249.7 222.5h1.0v1.0h-1.0zM250.8 222.9h1.0v1.0h-1.0zM275.8 221.4h1.0v1.0h-1.0zM262.8 224.8h1.0v1.0h-1.0zM270.4 222.7h1.0v1.0h-1.0zM264.4 221.7h1.0v1.0h-1.0zM255.2 224.6h1.0v1.0h-1.0zM260.3 216.9h1.0v1.0h-1.0zM252.0 223.7h1.0v1.0h-1.0zM259.4 225.5h1.0v1.0h-1.0zM266.9 223.4h1.0v1.0h-1.0zM274.6 222.3h1.0v1.0h-1.0zM279.5 226.5h1.0v1.0h-1.0zM271.8 226.0h1.0v1.0h-1.0zM281.6 229.7h1.0v1.0h-1.0zM256.7 229.3h1.0v1.0h-1.0zM274.7 225.4h1.0v1.0h-1.0zM264.9 224.1h1.0v1.0h-1.0zM241.1 220.2h1.0v1.0h-1.0zM256.4 218.6h1.0v1.0h-1.0zM265.2 220.4h1.0v1.0h-1.0zM272.2 225.5h1.0v1.0h-1.0zM267.2 227.1h1.0v1.0h-1.0zM256.9 226.5h1.0v1.0h-1.0zM267.3 228.1h1.0v1.0h-1.0zM254.5 225.5h1.0v1.0h-1.0zM271.6 225.4h1.0v1.0h-1.0zM241.7 221.0h1.0v1.0h-1.0zM258.8 223.2h1.0v1.0h-1.0zM260.6 226.3h1.0v1.0h-1.0zM257.0 217.3h1.0v1.0h-1.0zM283.6 222.7h1.0v1.0h-1.0zM278.0 221.2h1.0v1.0h-1.0zM264.6 223.6h1.0v1.0h-1.0zM251.7 224.1h1.0v1.0h-1.0zM258.4 220.1h1.0v1.0h-1.0zM248.0 219.4h1.0v1.0h-1.0zM271.8 225.6h1.0v1.0h-1.0zM265.1 223.6h1.0v1.0h-1.0zM276.1 227.6h1.0v1.0h-1.0zM264.8 223.6h1.0v1.0h-1.0zM278.7 224.9h1.0v1.0h-1.0zM259.1 220.5h1.0v1.0h-1.0zM250.5 221.4h1.0v1.0h-1.0zM263.1 223.7h1.0v1.0h-1.0zM276.8 225.9h1.0v1.0h-1.0zM278.9 223.0h1.0v1.0h-1.0zM256.6 225.2h1.0v1.0h-1.0zM262.2 224.2h1.0v1.0h-1.0zM263.8 221.6h1.0v1.0h-1.0zM254.1 222.0h1.0v1.0h-1.0zM256.5 227.5h1.0v1.0h-1.0zM257.0 224.4h1.0v1.0h-1.0zM266.9 222.6h1.0v1.0h-1.0zM266.8 225.6h1.0v1.0h-1.0zM248.3 224.5h1.0v1.0h-1.0zM259.9 225.7h1.0v1.0h-1.0zM259.3 221.9h1.0v1.0h-1.0zM256.5 223.5h1.0v1.0h-1.0zM266.9 222.5h1.0v1.0h-1.0zM263.8 226.2h1.0v1.0h-1.0zM256.4 227.9h1.0v1.0h-1.0zM256.1 219.2h1.0v1.0h-1.0zM259.7 223.5h1.0v1.0h-1.0zM263.5 221.6h1.0v1.0h-1.0zM264.8 226.7h1.0v1.0h-1.0zM271.2 223.6h1.0v1.0h-1.0zM251.4 228.8h1.0v1.0h-1.0zM271.4 223.6h1.0v1.0h-1.0zM272.9 227.7h1.0v1.0h-1.0zM264.6 221.2h1.0v1.0h-1.0zM265.1 221.1h1.0v1.0h-1.0zM260.4 227.6h1.0v1.0h-1.0zM262.5 220.5h1.0v1.0h-1.0zM263.6 223.4h1.0v1.0h-1.0zM254.7 223.8h1.0v1.0h-1.0zM280.3 226.4h1.0v1.0h-1.0zM266.6 225.3h1.0v1.0h-1.0zM278.6 218.7h1.0v1.0h-1.0zM270.1 222.7h1.0v1.0h-1.0zM266.6 228.8h1.0v1.0h-1.0zM262.3 225.0h1.0v1.0h-1.0zM265.3 230.1h1.0v1.0h-1.0zM260.7 225.8h1.0v1.0h-1.0zM263.0 224.9h1.0v1.0h-1.0zM260.6 229.7h1.0v1.0h-1.0zM266.9 230.2h1.0v1.0h-1.0zM266.0 228.9h1.0v1.0h-1.0zM266.0 230.7h1.0v1.0h-1.0zM267.9 229.7h1.0v1.0h-1.0zM265.4 230.0h1.0v1.0h-1.0zM259.3 228.8h1.0v1.0h-1.0zM258.0 227.9h1.0v1.0h-1.0zM254.5 228.5h1.0v1.0h-1.0zM267.1 229.8h1.0v1.0h-1.0zM267.7 229.9h1.0v1.0h-1.0zM265.1 225.1h1.0v1.0h-1.0zM262.0 229.2h1.0v1.0h-1.0zM261.9 231.2h1.0v1.0h-1.0zM262.4 232.3h1.0v1.0h-1.0zM269.1 228.9h1.0v1.0h-1.0zM258.0 227.1h1.0v1.0h-1.0zM261.8 229.5h1.0v1.0h-1.0zM275.4 227.5h1.0v1.0h-1.0zM271.5 229.7h1.0v1.0h-1.0zM263.4 229.5h1.0v1.0h-1.0zM265.8 230.1h1.0v1.0h-1.0zM264.3 228.0h1.0v1.0h-1.0zM267.4 229.4h1.0v1.0h-1.0zM266.0 227.2h1.0v1.0h-1.0zM261.8 227.6h1.0v1.0h-1.0zM264.8 229.5h1.0v1.0h-1.0zM264.1 229.7h1.0v1.0h-1.0zM264.1 231.7h1.0v1.0h-1.0zM261.3 230.7h1.0v1.0h-1.0zM261.9 228.1h1.0v1.0h-1.0zM259.1 232.1h1.0v1.0h-1.0zM260.7 228.3h1.0v1.0h-1.0zM260.0 228.7h1.0v1.0h-1.0zM259.9 232.7h1.0v1.0h-1.0zM265.5 233.4h1.0v1.0h-1.0zM269.7 226.2h1.0v1.0h-1.0zM267.1 231.0h1.0v1.0h-1.0zM268.0 229.1h1.0v1.0h-1.0zM267.7 231.7h1.0v1.0h-1.0zM265.0 231.6h1.0v1.0h-1.0zM270.1 232.9h1.0v1.0h-1.0zM264.1 230.0h1.0v1.0h-1.0zM263.0 227.7h1.0v1.0h-1.0zM259.9 228.4h1.0v1.0h-1.0zM269.0 228.2h1.0v1.0h-1.0zM264.3 229.3h1.0v1.0h-1.0zM261.2 229.2h1.0v1.0h-1.0zM259.2 228.1h1.0v1.0h-1.0zM262.7 229.4h1.0v1.0h-1.0zM259.7 229.2h1.0v1.0h-1.0zM257.5 225.5h1.0v1.0h-1.0zM263.6 231.1h1.0v1.0h-1.0zM271.0 230.8h1.0v1.0h-1.0zM265.3 232.6h1.0v1.0h-1.0zM265.5 227.9h1.0v1.0h-1.0zM268.6 228.0h1.0v1.0h-1.0zM259.7 230.2h1.0v1.0h-1.0zM269.1 228.5h1.0v1.0h-1.0zM261.0 229.4h1.0v1.0h-1.0zM267.2 227.4h1.0v1.0h-1.0zM263.0 230.2h1.0v1.0h-1.0zM266.2 232.5h1.0v1.0h-1.0zM268.3 224.5h1.0v1.0h-1.0zM270.0 227.8h1.0v1.0h-1.0zM279.6 216.0h1.0v1.0h-1.0zM280.3 215.3h1.0v1.0h-1.0zM280.9 228.6h1.0v1.0h-1.0zM277.1 224.8h1.0v1.0h-1.0zM278.7 221.6h1.0v1.0h-1.0zM274.8 221.7h1.0v1.0h-1.0zM279.2 216.7h1.0v1.0h-1.0zM284.9 217.1h1.0v1.0h-1.0zM277.2 220.8h1.0v1.0h-1.0zM277.2 220.3h1.0v1.0h-1.0zM285.0 221.1h1.0v1.0h-1.0zM277.2 224.4h1.0v1.0h-1.0zM276.0 215.7h1.0v1.0h-1.0zM282.9 221.5h1.0v1.0h-1.0zM282.0 226.6h1.0v1.0h-1.0zM284.6 224.9h1.0v1.0h-1.0zM278.7 215.0h1.0v1.0h-1.0zM281.2 218.3h1.0v1.0h-1.0zM282.7 220.0h1.0v1.0h-1.0zM274.6 222.2h1.0v1.0h-1.0zM277.5 222.7h1.0v1.0h-1.0zM281.3 228.0h1.0v1.0h-1.0zM278.7 227.8h1.0v1.0h-1.0zM278.9 215.9h1.0v1.0h-1.0zM275.0 221.7h1.0v1.0h-1.0zM277.7 224.5h1.0v1.0h-1.0zM274.8 217.1h1.0v1.0h-1.0zM280.9 220.7h1.0v1.0h-1.0zM284.9 218.1h1.0v1.0h-1.0zM275.8 231.5h1.0v1.0h-1.0zM271.4 215.0h1.0v1.0h-1.0zM278.5 218.4h1.0v1.0h-1.0zM277.2 226.8h1.0v1.0h-1.0zM277.1 222.1h1.0v1.0h-1.0zM280.8 218.2h1.0v1.0h-1.0zM272.3 223.1h1.0v1.0h-1.0zM278.0 224.7h1.0v1.0h-1.0zM275.7 220.6h1.0v1.0h-1.0zM277.4 223.3h1.0v1.0h-1.0zM281.1 223.2h1.0v1.0h-1.0zM344.1 223.2h1.0v1.0h-1.0zM348.8 222.5h1.0v1.0h-1.0zM349.0 224.6h1.0v1.0h-1.0zM343.9 224.6h1.0v1.0h-1.0zM352.7 225.2h1.0v1.0h-1.0zM348.8 221.3h1.0v1.0h-1.0zM347.0 223.1h1.0v1.0h-1.0zM356.0 222.5h1.0v1.0h-1.0zM350.6 226.0h1.0v1.0h-1.0zM353.9 223.9h1.0v1.0h-1.0zM352.3 226.6h1.0v1.0h-1.0zM352.0 224.2h1.0v1.0h-1.0zM348.6 223.5h1.0v1.0h-1.0zM349.8 221.2h1.0v1.0h-1.0zM348.7 226.5h1.0v1.0h-1.0zM348.1 221.8h1.0v1.0h-1.0zM347.8 224.4h1.0v1.0h-1.0zM353.0 225.1h1.0v1.0h-1.0zM356.0 222.9h1.0v1.0h-1.0zM351.6 224.1h1.0v1.0h-1.0zM350.1 226.5h1.0v1.0h-1.0zM349.3 224.2h1.0v1.0h-1.0zM347.5 224.9h1.0v1.0h-1.0zM350.5 222.2h1.0v1.0h-1.0zM348.2 221.8h1.0v1.0h-1.0zM350.0 223.6h1.0v1.0h-1.0zM350.3 223.0h1.0v1.0h-1.0zM353.5 224.5h1.0v1.0h-1.0zM351.6 224.0h1.0v1.0h-1.0zM348.2 225.1h1.0v1.0h-1.0zM355.9 226.5h1.0v1.0h-1.0zM352.5 222.3h1.0v1.0h-1.0zM348.6 223.1h1.0v1.0h-1.0zM352.0 223.8h1.0v1.0h-1.0zM350.0 225.0h1.0v1.0h-1.0zM352.7 222.4h1.0v1.0h-1.0zM348.3 224.8h1.0v1.0h-1.0zM352.2 223.0h1.0v1.0h-1.0zM351.7 221.3h1.0v1.0h-1.0zM348.2 224.4h1.0v1.0h-1.0zM347.9 224.6h1.0v1.0h-1.0zM349.1 226.1h1.0v1.0h-1.0zM348.7 224.7h1.0v1.0h-1.0zM351.0 222.0h1.0v1.0h-1.0zM345.1 224.5h1.0v1.0h-1.0zM348.1 224.4h1.0v1.0h-1.0zM356.5 221.1h1.0v1.0h-1.0zM351.2 222.2h1.0v1.0h-1.0zM348.5 221.4h1.0v1.0h-1.0zM349.4 226.5h1.0v1.0h-1.0zM354.3 223.1h1.0v1.0h-1.0zM349.2 222.3h1.0v1.0h-1.0zM349.5 222.9h1.0v1.0h-1.0zM351.0 221.8h1.0v1.0h-1.0zM353.0 223.7h1.0v1.0h-1.0zM350.5 223.6h1.0v1.0h-1.0zM346.6 225.4h1.0v1.0h-1.0zM350.4 226.2h1.0v1.0h-1.0zM351.1 225.6h1.0v1.0h-1.0zM352.4 223.9h1.0v1.0h-1.0zM351.4 223.6h1.0v1.0h-1.0zM346.3 222.3h1.0v1.0h-1.0zM352.0 222.5h1.0v1.0h-1.0zM347.0 222.5h1.0v1.0h-1.0zM350.9 221.1h1.0v1.0h-1.0zM348.8 223.3h1.0v1.0h-1.0zM349.6 221.8h1.0v1.0h-1.0zM342.9 222.5h1.0v1.0h-1.0zM353.7 226.1h1.0v1.0h-1.0zM348.6 226.3h1.0v1.0h-1.0zM352.7 223.5h1.0v1.0h-1.0zM347.6 223.0h1.0v1.0h-1.0zM349.0 223.9h1.0v1.0h-1.0zM346.6 221.3h1.0v1.0h-1.0zM349.4 222.7h1.0v1.0h-1.0zM351.6 222.2h1.0v1.0h-1.0zM352.9 225.7h1.0v1.0h-1.0zM347.4 224.4h1.0v1.0h-1.0zM354.1 223.8h1.0v1.0h-1.0zM353.0 223.4h1.0v1.0h-1.0zM350.7 223.2h1.0v1.0h-1.0zM349.3 226.4h1.0v1.0h-1.0zM348.7 220.9h1.0v1.0h-1.0zM349.0 224.8h1.0v1.0h-1.0zM348.5 225.5h1.0v1.0h-1.0zM353.2 224.1h1.0v1.0h-1.0zM349.8 223.1h1.0v1.0h-1.0zM348.5 227.1h1.0v1.0h-1.0zM352.5 223.4h1.0v1.0h-1.0zM351.2 224.7h1.0v1.0h-1.0zM354.7 225.4h1.0v1.0h-1.0zM350.5 222.6h1.0v1.0h-1.0zM346.4 224.1h1.0v1.0h-1.0zM355.5 224.5h1.0v1.0h-1.0zM351.8 223.0h1.0v1.0h-1.0zM349.4 221.4h1.0v1.0h-1.0zM347.7 226.9h1.0v1.0h-1.0zM351.2 225.8h1.0v1.0h-1.0zM349.5 225.6h1.0v1.0h-1.0zM351.9 221.9h1.0v1.0h-1.0zM344.4 220.7h1.0v1.0h-1.0zM350.9 225.1h1.0v1.0h-1.0zM349.5 223.2h1.0v1.0h-1.0zM353.0 223.6h1.0v1.0h-1.0zM347.9 224.6h1.0v1.0h-1.0zM353.4 220.6h1.0v1.0h-1.0zM349.9 223.0h1.0v1.0h-1.0zM348.0 226.0h1.0v1.0h-1.0zM351.8 227.3h1.0v1.0h-1.0zM351.9 223.0h1.0v1.0h-1.0z" fill="#2438ff" fill-opacity="0.55" stroke="none"/>
<g filter="url(#b1)">
<ellipse cx="262.80" cy="223.60" rx="14.40" ry="4.40" fill="#2a3aff" fill-opacity="0.55" stroke="none"/>
<ellipse cx="262.80" cy="223.60" rx="13.00" ry="4.00" fill="#1434ff" fill-opacity="1" stroke="none"/>
<ellipse cx="262.60" cy="223.55" rx="9.50" ry="3.65" fill="#00b0ff" fill-opacity="1" stroke="none"/>
<ellipse cx="262.60" cy="223.55" rx="7.90" ry="3.35" fill="#18dcb0" fill-opacity="1" stroke="none"/>
<ellipse cx="262.60" cy="223.55" rx="6.90" ry="3.10" fill="#62e426" fill-opacity="1" stroke="none"/>
<ellipse cx="262.60" cy="223.55" rx="5.00" ry="2.35" fill="#f2ee00" fill-opacity="1" stroke="none"/>
<ellipse cx="262.60" cy="223.55" rx="3.70" ry="1.75" fill="#ff8400" fill-opacity="1" stroke="none"/>
<ellipse cx="262.60" cy="223.55" rx="2.80" ry="1.30" fill="#ff1a0c" fill-opacity="1" stroke="none"/>
<ellipse cx="350.80" cy="223.90" rx="5.30" ry="3.10" fill="#2a3aff" fill-opacity="0.55" stroke="none"/>
<ellipse cx="350.80" cy="223.90" rx="4.30" ry="2.50" fill="#1434ff" fill-opacity="1" stroke="none"/>
<ellipse cx="351.20" cy="223.90" rx="1.80" ry="1.00" fill="#0a50ff" fill-opacity="0.8" stroke="none"/>
</g>
<line x1="235.85" y1="81.95" x2="235.85" y2="237.30" stroke="#777" stroke-width="0.5"/>
<line x1="309.70" y1="81.55" x2="309.70" y2="237.30" stroke="#1c1c1c" stroke-width="1.25"/>
<text x="235.70" y="87.20" font-size="5.8" text-anchor="start" >Live</text>
<text x="235.70" y="93.00" font-size="4.9" text-anchor="start" >% Parent: 95.19</text>
<text x="310.20" y="229.20" font-size="5.7" text-anchor="start" >Dead</text>
<text x="310.10" y="235.25" font-size="4.9" text-anchor="start" >% Parent: 4.81</text>
<text x="312.00" y="80.70" font-size="6.7" text-anchor="middle" >Singlets</text>
<line x1="232.65" y1="237.00" x2="235.95" y2="237.00" stroke="#1a1a1a" stroke-width="0.85"/>
<text x="230.85" y="238.75" font-size="4.7" text-anchor="end" >0</text>
<line x1="234.25" y1="229.62" x2="235.95" y2="229.62" stroke="#444" stroke-width="0.6"/>
<line x1="234.25" y1="222.24" x2="235.95" y2="222.24" stroke="#444" stroke-width="0.6"/>
<line x1="234.25" y1="214.86" x2="235.95" y2="214.86" stroke="#444" stroke-width="0.6"/>
<line x1="234.25" y1="207.48" x2="235.95" y2="207.48" stroke="#444" stroke-width="0.6"/>
<line x1="232.65" y1="200.10" x2="235.95" y2="200.10" stroke="#1a1a1a" stroke-width="0.85"/>
<text x="230.85" y="201.85" font-size="4.7" text-anchor="end" >1.0M</text>
<line x1="234.25" y1="192.72" x2="235.95" y2="192.72" stroke="#444" stroke-width="0.6"/>
<line x1="234.25" y1="185.34" x2="235.95" y2="185.34" stroke="#444" stroke-width="0.6"/>
<line x1="234.25" y1="177.96" x2="235.95" y2="177.96" stroke="#444" stroke-width="0.6"/>
<line x1="234.25" y1="170.58" x2="235.95" y2="170.58" stroke="#444" stroke-width="0.6"/>
<line x1="232.65" y1="163.20" x2="235.95" y2="163.20" stroke="#1a1a1a" stroke-width="0.85"/>
<text x="230.85" y="164.95" font-size="4.7" text-anchor="end" >2.0M</text>
<line x1="234.25" y1="155.82" x2="235.95" y2="155.82" stroke="#444" stroke-width="0.6"/>
<line x1="234.25" y1="148.44" x2="235.95" y2="148.44" stroke="#444" stroke-width="0.6"/>
<line x1="234.25" y1="141.06" x2="235.95" y2="141.06" stroke="#444" stroke-width="0.6"/>
<line x1="234.25" y1="133.68" x2="235.95" y2="133.68" stroke="#444" stroke-width="0.6"/>
<line x1="232.65" y1="126.30" x2="235.95" y2="126.30" stroke="#1a1a1a" stroke-width="0.85"/>
<text x="230.85" y="128.05" font-size="4.7" text-anchor="end" >3.0M</text>
<line x1="234.25" y1="118.92" x2="235.95" y2="118.92" stroke="#444" stroke-width="0.6"/>
<line x1="234.25" y1="111.54" x2="235.95" y2="111.54" stroke="#444" stroke-width="0.6"/>
<line x1="234.25" y1="104.16" x2="235.95" y2="104.16" stroke="#444" stroke-width="0.6"/>
<line x1="234.25" y1="96.78" x2="235.95" y2="96.78" stroke="#444" stroke-width="0.6"/>
<line x1="232.65" y1="89.40" x2="235.95" y2="89.40" stroke="#1a1a1a" stroke-width="0.85"/>
<text x="230.85" y="91.15" font-size="4.7" text-anchor="end" >4.0M</text>
<line x1="236.30" y1="237.10" x2="236.30" y2="240.00" stroke="#1a1a1a" stroke-width="0.8"/>
<text x="236.60" y="246.60" font-size="4.5" text-anchor="middle">-10<tspan dy="-1.7" font-size="3.0">3</tspan></text>
<line x1="293.50" y1="237.10" x2="293.50" y2="240.00" stroke="#1a1a1a" stroke-width="0.8"/>
<text x="293.50" y="246.60" font-size="4.5" text-anchor="middle">10<tspan dy="-1.7" font-size="3.0">3</tspan></text>
<line x1="333.30" y1="237.10" x2="333.30" y2="240.00" stroke="#1a1a1a" stroke-width="0.8"/>
<text x="333.30" y="246.60" font-size="4.5" text-anchor="middle">10<tspan dy="-1.7" font-size="3.0">4</tspan></text>
<line x1="368.60" y1="237.10" x2="368.60" y2="240.00" stroke="#1a1a1a" stroke-width="0.8"/>
<text x="368.60" y="246.60" font-size="4.5" text-anchor="middle">10<tspan dy="-1.7" font-size="3.0">5</tspan></text>
<text x="264.60" y="246.60" font-size="4.5" text-anchor="middle" >0</text>
<path d="M260.9 236.9h7.6v1.4h-7.6zM260.9 238.2h0.9v1.7h-0.9zM264.2 238.2h0.9v1.9h-0.9zM267.6 238.2h0.9v1.7h-0.9z" fill="#111" stroke="none"/>
<line x1="239.60" y1="237.10" x2="239.60" y2="238.70" stroke="#444" stroke-width="0.6"/>
<line x1="242.90" y1="237.10" x2="242.90" y2="238.70" stroke="#444" stroke-width="0.6"/>
<line x1="246.20" y1="237.10" x2="246.20" y2="238.70" stroke="#444" stroke-width="0.6"/>
<line x1="249.50" y1="237.10" x2="249.50" y2="238.70" stroke="#444" stroke-width="0.6"/>
<line x1="252.80" y1="237.10" x2="252.80" y2="238.70" stroke="#444" stroke-width="0.6"/>
<line x1="256.10" y1="237.10" x2="256.10" y2="238.70" stroke="#444" stroke-width="0.6"/>
<line x1="259.40" y1="237.10" x2="259.40" y2="238.70" stroke="#444" stroke-width="0.6"/>
<line x1="271.35" y1="237.10" x2="271.35" y2="238.70" stroke="#444" stroke-width="0.6"/>
<line x1="274.50" y1="237.10" x2="274.50" y2="238.70" stroke="#444" stroke-width="0.6"/>
<line x1="277.65" y1="237.10" x2="277.65" y2="238.70" stroke="#444" stroke-width="0.6"/>
<line x1="280.80" y1="237.10" x2="280.80" y2="238.70" stroke="#444" stroke-width="0.6"/>
<line x1="283.95" y1="237.10" x2="283.95" y2="238.70" stroke="#444" stroke-width="0.6"/>
<line x1="287.10" y1="237.10" x2="287.10" y2="238.70" stroke="#444" stroke-width="0.6"/>
<line x1="290.25" y1="237.10" x2="290.25" y2="238.70" stroke="#444" stroke-width="0.6"/>
<line x1="305.48" y1="237.10" x2="305.48" y2="238.70" stroke="#444" stroke-width="0.6"/>
<line x1="312.49" y1="237.10" x2="312.49" y2="238.70" stroke="#444" stroke-width="0.6"/>
<line x1="317.46" y1="237.10" x2="317.46" y2="238.70" stroke="#444" stroke-width="0.6"/>
<line x1="321.32" y1="237.10" x2="321.32" y2="238.70" stroke="#444" stroke-width="0.6"/>
<line x1="324.47" y1="237.10" x2="324.47" y2="238.70" stroke="#444" stroke-width="0.6"/>
<line x1="327.13" y1="237.10" x2="327.13" y2="238.70" stroke="#444" stroke-width="0.6"/>
<line x1="329.44" y1="237.10" x2="329.44" y2="238.70" stroke="#444" stroke-width="0.6"/>
<line x1="331.48" y1="237.10" x2="331.48" y2="238.70" stroke="#444" stroke-width="0.6"/>
<line x1="343.93" y1="237.10" x2="343.93" y2="238.70" stroke="#444" stroke-width="0.6"/>
<line x1="350.14" y1="237.10" x2="350.14" y2="238.70" stroke="#444" stroke-width="0.6"/>
<line x1="354.55" y1="237.10" x2="354.55" y2="238.70" stroke="#444" stroke-width="0.6"/>
<line x1="357.97" y1="237.10" x2="357.97" y2="238.70" stroke="#444" stroke-width="0.6"/>
<line x1="360.77" y1="237.10" x2="360.77" y2="238.70" stroke="#444" stroke-width="0.6"/>
<line x1="363.13" y1="237.10" x2="363.13" y2="238.70" stroke="#444" stroke-width="0.6"/>
<line x1="365.18" y1="237.10" x2="365.18" y2="238.70" stroke="#444" stroke-width="0.6"/>
<line x1="366.98" y1="237.10" x2="366.98" y2="238.70" stroke="#444" stroke-width="0.6"/>
<line x1="379.23" y1="237.10" x2="379.23" y2="238.70" stroke="#444" stroke-width="0.6"/>
<line x1="385.44" y1="237.10" x2="385.44" y2="238.70" stroke="#444" stroke-width="0.6"/>
<line x1="389.85" y1="237.10" x2="389.85" y2="238.70" stroke="#444" stroke-width="0.6"/>
<text x="313.10" y="256.40" font-size="5.75" text-anchor="middle" >7-AAD-A</text>
<text x="0.00" y="0.00" font-size="5.75" text-anchor="middle" transform="translate(215.6 159.5) rotate(-90)">SSC-A</text>
<rect x="422.7" y="81.4" width="154.50" height="154.80" fill="#fff" stroke="#a4a4a4" stroke-width="1.25"/>
<path d="M521.6 106.7h1.0v1.0h-1.0zM523.3 103.3h1.0v1.0h-1.0zM523.0 103.1h1.0v1.0h-1.0zM526.2 100.3h1.0v1.0h-1.0zM521.9 103.6h1.0v1.0h-1.0zM527.1 105.5h1.0v1.0h-1.0zM528.9 104.0h1.0v1.0h-1.0zM524.4 103.4h1.0v1.0h-1.0zM524.2 105.0h1.0v1.0h-1.0zM522.7 102.1h1.0v1.0h-1.0zM522.7 110.4h1.0v1.0h-1.0zM522.3 101.2h1.0v1.0h-1.0zM520.3 105.2h1.0v1.0h-1.0zM520.0 103.1h1.0v1.0h-1.0zM521.6 106.8h1.0v1.0h-1.0zM522.7 107.5h1.0v1.0h-1.0zM526.9 104.9h1.0v1.0h-1.0zM520.9 102.8h1.0v1.0h-1.0zM529.4 109.5h1.0v1.0h-1.0zM518.8 105.4h1.0v1.0h-1.0zM520.3 112.2h1.0v1.0h-1.0zM523.6 98.9h1.0v1.0h-1.0zM520.2 99.3h1.0v1.0h-1.0zM519.4 104.5h1.0v1.0h-1.0zM519.8 107.5h1.0v1.0h-1.0zM518.7 105.5h1.0v1.0h-1.0zM516.6 103.0h1.0v1.0h-1.0zM525.7 102.7h1.0v1.0h-1.0zM526.9 105.0h1.0v1.0h-1.0zM530.5 105.9h1.0v1.0h-1.0zM521.1 102.2h1.0v1.0h-1.0zM526.4 112.0h1.0v1.0h-1.0zM526.6 99.3h1.0v1.0h-1.0zM521.1 98.3h1.0v1.0h-1.0zM519.6 105.6h1.0v1.0h-1.0zM515.7 101.8h1.0v1.0h-1.0zM532.4 104.0h1.0v1.0h-1.0zM524.3 103.1h1.0v1.0h-1.0zM523.7 115.1h1.0v1.0h-1.0zM518.9 103.2h1.0v1.0h-1.0zM520.6 111.9h1.0v1.0h-1.0zM511.4 103.2h1.0v1.0h-1.0zM534.8 110.3h1.0v1.0h-1.0zM525.8 104.7h1.0v1.0h-1.0zM519.1 108.2h1.0v1.0h-1.0zM527.4 107.8h1.0v1.0h-1.0zM527.5 102.9h1.0v1.0h-1.0zM523.9 99.2h1.0v1.0h-1.0zM521.4 103.3h1.0v1.0h-1.0zM515.1 106.4h1.0v1.0h-1.0zM522.2 102.0h1.0v1.0h-1.0zM518.8 106.1h1.0v1.0h-1.0zM520.8 109.0h1.0v1.0h-1.0zM523.0 103.9h1.0v1.0h-1.0zM524.6 110.2h1.0v1.0h-1.0zM523.8 106.0h1.0v1.0h-1.0zM523.8 100.9h1.0v1.0h-1.0zM528.4 103.2h1.0v1.0h-1.0zM528.1 107.9h1.0v1.0h-1.0zM522.9 111.8h1.0v1.0h-1.0zM522.4 97.8h1.0v1.0h-1.0zM524.5 104.9h1.0v1.0h-1.0zM524.2 102.4h1.0v1.0h-1.0zM523.8 105.4h1.0v1.0h-1.0zM525.8 108.4h1.0v1.0h-1.0zM526.9 103.6h1.0v1.0h-1.0zM523.1 112.0h1.0v1.0h-1.0zM525.8 109.7h1.0v1.0h-1.0zM516.5 98.3h1.0v1.0h-1.0zM528.5 105.9h1.0v1.0h-1.0zM518.0 109.5h1.0v1.0h-1.0zM523.4 110.8h1.0v1.0h-1.0zM525.4 108.8h1.0v1.0h-1.0zM526.4 103.9h1.0v1.0h-1.0zM521.9 113.3h1.0v1.0h-1.0zM522.8 103.2h1.0v1.0h-1.0zM524.6 107.2h1.0v1.0h-1.0zM521.6 112.0h1.0v1.0h-1.0zM520.1 93.9h1.0v1.0h-1.0zM520.8 99.6h1.0v1.0h-1.0zM518.8 108.8h1.0v1.0h-1.0zM522.1 104.6h1.0v1.0h-1.0zM519.6 104.7h1.0v1.0h-1.0zM522.3 104.3h1.0v1.0h-1.0zM534.7 106.5h1.0v1.0h-1.0zM521.0 107.1h1.0v1.0h-1.0zM526.7 108.8h1.0v1.0h-1.0zM525.7 103.2h1.0v1.0h-1.0zM518.8 104.5h1.0v1.0h-1.0zM524.0 99.4h1.0v1.0h-1.0zM523.7 107.1h1.0v1.0h-1.0zM523.2 102.9h1.0v1.0h-1.0zM524.2 103.7h1.0v1.0h-1.0zM525.2 108.7h1.0v1.0h-1.0zM526.6 99.9h1.0v1.0h-1.0zM523.3 97.7h1.0v1.0h-1.0zM523.3 103.2h1.0v1.0h-1.0zM524.5 102.5h1.0v1.0h-1.0zM524.1 105.4h1.0v1.0h-1.0zM531.6 106.0h1.0v1.0h-1.0zM522.3 105.7h1.0v1.0h-1.0zM530.9 106.7h1.0v1.0h-1.0zM516.3 99.2h1.0v1.0h-1.0zM525.4 105.0h1.0v1.0h-1.0zM522.9 107.0h1.0v1.0h-1.0zM525.5 106.2h1.0v1.0h-1.0zM522.0 102.6h1.0v1.0h-1.0zM525.9 108.8h1.0v1.0h-1.0zM521.9 106.1h1.0v1.0h-1.0zM519.2 102.5h1.0v1.0h-1.0zM520.0 107.4h1.0v1.0h-1.0zM528.9 105.9h1.0v1.0h-1.0zM524.8 107.9h1.0v1.0h-1.0zM531.9 105.0h1.0v1.0h-1.0zM520.1 102.4h1.0v1.0h-1.0zM514.3 102.0h1.0v1.0h-1.0zM526.2 107.4h1.0v1.0h-1.0zM522.5 100.8h1.0v1.0h-1.0zM521.2 96.1h1.0v1.0h-1.0zM526.7 105.3h1.0v1.0h-1.0zM519.4 112.7h1.0v1.0h-1.0zM521.3 98.7h1.0v1.0h-1.0zM521.9 104.2h1.0v1.0h-1.0zM516.7 111.0h1.0v1.0h-1.0zM520.6 103.3h1.0v1.0h-1.0zM524.6 104.6h1.0v1.0h-1.0zM522.1 102.3h1.0v1.0h-1.0zM515.5 98.5h1.0v1.0h-1.0zM523.1 102.0h1.0v1.0h-1.0zM527.7 94.8h1.0v1.0h-1.0zM522.4 99.9h1.0v1.0h-1.0zM521.8 104.9h1.0v1.0h-1.0zM517.9 108.8h1.0v1.0h-1.0zM523.4 111.3h1.0v1.0h-1.0zM523.8 107.9h1.0v1.0h-1.0zM520.1 109.4h1.0v1.0h-1.0zM519.2 103.7h1.0v1.0h-1.0zM515.8 108.4h1.0v1.0h-1.0zM522.4 105.2h1.0v1.0h-1.0zM517.9 110.7h1.0v1.0h-1.0zM522.3 113.6h1.0v1.0h-1.0zM521.5 110.9h1.0v1.0h-1.0zM520.4 105.7h1.0v1.0h-1.0zM520.7 105.5h1.0v1.0h-1.0zM519.6 108.7h1.0v1.0h-1.0zM524.1 105.2h1.0v1.0h-1.0zM524.1 108.3h1.0v1.0h-1.0zM520.8 110.6h1.0v1.0h-1.0zM519.7 96.8h1.0v1.0h-1.0zM522.9 103.6h1.0v1.0h-1.0zM519.5 109.6h1.0v1.0h-1.0zM518.9 112.3h1.0v1.0h-1.0zM516.8 107.1h1.0v1.0h-1.0zM523.0 111.9h1.0v1.0h-1.0zM522.1 104.9h1.0v1.0h-1.0zM519.4 103.7h1.0v1.0h-1.0zM523.0 106.5h1.0v1.0h-1.0zM522.1 112.2h1.0v1.0h-1.0zM517.1 102.5h1.0v1.0h-1.0zM521.3 105.2h1.0v1.0h-1.0zM521.0 106.2h1.0v1.0h-1.0zM516.0 107.6h1.0v1.0h-1.0zM519.2 100.3h1.0v1.0h-1.0zM522.0 102.1h1.0v1.0h-1.0zM523.2 109.7h1.0v1.0h-1.0zM522.3 106.0h1.0v1.0h-1.0zM522.0 106.0h1.0v1.0h-1.0zM523.3 107.7h1.0v1.0h-1.0zM522.9 109.9h1.0v1.0h-1.0zM521.5 101.8h1.0v1.0h-1.0zM523.2 110.1h1.0v1.0h-1.0zM519.8 96.2h1.0v1.0h-1.0zM517.4 103.5h1.0v1.0h-1.0zM523.0 100.4h1.0v1.0h-1.0zM522.5 104.9h1.0v1.0h-1.0zM521.0 99.2h1.0v1.0h-1.0zM520.1 105.6h1.0v1.0h-1.0zM518.6 106.0h1.0v1.0h-1.0zM518.1 102.3h1.0v1.0h-1.0zM519.6 105.4h1.0v1.0h-1.0zM514.2 104.6h1.0v1.0h-1.0zM465.4 136.0h1.0v1.0h-1.0zM498.1 115.9h1.0v1.0h-1.0zM508.7 112.4h1.0v1.0h-1.0zM503.5 114.7h1.0v1.0h-1.0zM466.5 139.9h1.0v1.0h-1.0zM518.1 105.1h1.0v1.0h-1.0zM513.6 109.9h1.0v1.0h-1.0zM480.6 128.9h1.0v1.0h-1.0zM508.9 111.9h1.0v1.0h-1.0zM522.2 103.6h1.0v1.0h-1.0zM520.9 112.7h1.0v1.0h-1.0zM487.3 129.3h1.0v1.0h-1.0zM511.1 110.7h1.0v1.0h-1.0zM521.5 105.2h1.0v1.0h-1.0zM517.2 106.3h1.0v1.0h-1.0zM517.9 103.3h1.0v1.0h-1.0zM472.6 132.1h1.0v1.0h-1.0zM517.1 104.1h1.0v1.0h-1.0zM512.3 110.4h1.0v1.0h-1.0zM496.4 126.3h1.0v1.0h-1.0zM466.6 134.6h1.0v1.0h-1.0zM489.3 123.1h1.0v1.0h-1.0zM518.1 106.2h1.0v1.0h-1.0zM502.3 117.3h1.0v1.0h-1.0zM510.9 109.2h1.0v1.0h-1.0zM516.0 102.9h1.0v1.0h-1.0zM505.5 114.8h1.0v1.0h-1.0zM484.0 126.8h1.0v1.0h-1.0zM520.7 112.2h1.0v1.0h-1.0zM498.9 115.1h1.0v1.0h-1.0zM510.6 121.1h1.0v1.0h-1.0zM496.4 125.2h1.0v1.0h-1.0zM490.7 117.7h1.0v1.0h-1.0zM498.3 115.7h1.0v1.0h-1.0zM504.0 112.1h1.0v1.0h-1.0zM502.8 118.1h1.0v1.0h-1.0zM505.3 117.9h1.0v1.0h-1.0zM477.7 124.1h1.0v1.0h-1.0zM505.3 112.0h1.0v1.0h-1.0zM513.8 115.2h1.0v1.0h-1.0zM469.7 138.1h1.0v1.0h-1.0zM520.1 110.9h1.0v1.0h-1.0zM474.5 135.0h1.0v1.0h-1.0zM483.8 134.3h1.0v1.0h-1.0zM506.5 113.3h1.0v1.0h-1.0zM509.4 112.4h1.0v1.0h-1.0zM488.8 127.4h1.0v1.0h-1.0zM479.0 131.6h1.0v1.0h-1.0zM521.7 110.0h1.0v1.0h-1.0zM496.6 121.8h1.0v1.0h-1.0zM493.8 122.1h1.0v1.0h-1.0zM500.5 121.8h1.0v1.0h-1.0zM512.5 110.1h1.0v1.0h-1.0zM498.9 124.5h1.0v1.0h-1.0zM517.4 106.4h1.0v1.0h-1.0zM517.1 107.9h1.0v1.0h-1.0zM459.8 135.4h1.0v1.0h-1.0zM467.8 132.3h1.0v1.0h-1.0zM502.5 112.0h1.0v1.0h-1.0zM513.8 107.5h1.0v1.0h-1.0zM498.4 113.5h1.0v1.0h-1.0zM497.1 114.4h1.0v1.0h-1.0zM518.9 107.7h1.0v1.0h-1.0zM518.6 107.4h1.0v1.0h-1.0zM500.4 116.5h1.0v1.0h-1.0zM512.1 108.0h1.0v1.0h-1.0zM476.5 131.5h1.0v1.0h-1.0zM501.8 123.0h1.0v1.0h-1.0zM518.5 112.0h1.0v1.0h-1.0zM493.2 118.1h1.0v1.0h-1.0zM499.8 121.8h1.0v1.0h-1.0zM512.1 108.9h1.0v1.0h-1.0zM518.2 111.4h1.0v1.0h-1.0zM502.8 120.8h1.0v1.0h-1.0zM476.1 132.5h1.0v1.0h-1.0zM479.6 130.5h1.0v1.0h-1.0zM485.7 120.8h1.0v1.0h-1.0zM515.8 110.5h1.0v1.0h-1.0zM518.4 105.5h1.0v1.0h-1.0zM503.4 118.9h1.0v1.0h-1.0zM510.9 105.8h1.0v1.0h-1.0zM479.1 129.9h1.0v1.0h-1.0zM500.1 119.1h1.0v1.0h-1.0zM487.7 122.0h1.0v1.0h-1.0zM496.6 120.9h1.0v1.0h-1.0zM506.1 114.6h1.0v1.0h-1.0zM513.2 110.2h1.0v1.0h-1.0zM479.3 131.8h1.0v1.0h-1.0zM506.9 115.0h1.0v1.0h-1.0zM496.0 118.3h1.0v1.0h-1.0zM516.2 108.8h1.0v1.0h-1.0zM483.0 133.2h1.0v1.0h-1.0zM482.1 130.2h1.0v1.0h-1.0zM510.6 106.7h1.0v1.0h-1.0zM508.3 112.4h1.0v1.0h-1.0zM502.4 114.3h1.0v1.0h-1.0zM482.2 128.0h1.0v1.0h-1.0zM468.9 136.3h1.0v1.0h-1.0zM466.2 144.1h1.0v1.0h-1.0zM516.7 110.7h1.0v1.0h-1.0zM476.2 129.4h1.0v1.0h-1.0zM474.4 131.2h1.0v1.0h-1.0zM518.9 109.0h1.0v1.0h-1.0zM508.1 113.4h1.0v1.0h-1.0zM480.2 131.5h1.0v1.0h-1.0zM484.0 128.6h1.0v1.0h-1.0zM521.7 107.6h1.0v1.0h-1.0zM494.7 121.8h1.0v1.0h-1.0zM515.1 111.7h1.0v1.0h-1.0zM506.6 112.6h1.0v1.0h-1.0zM514.2 111.5h1.0v1.0h-1.0zM511.4 111.9h1.0v1.0h-1.0zM506.6 117.8h1.0v1.0h-1.0zM504.9 114.5h1.0v1.0h-1.0zM492.7 164.6h1.0v1.0h-1.0zM468.8 181.3h1.0v1.0h-1.0zM460.0 188.4h1.0v1.0h-1.0zM464.7 188.3h1.0v1.0h-1.0zM464.1 186.6h1.0v1.0h-1.0zM465.7 181.0h1.0v1.0h-1.0zM464.8 194.5h1.0v1.0h-1.0zM464.6 179.0h1.0v1.0h-1.0zM485.9 162.4h1.0v1.0h-1.0zM459.4 199.9h1.0v1.0h-1.0zM485.2 161.4h1.0v1.0h-1.0zM463.2 194.7h1.0v1.0h-1.0zM490.4 165.9h1.0v1.0h-1.0zM460.5 190.6h1.0v1.0h-1.0zM486.2 157.6h1.0v1.0h-1.0zM490.7 160.6h1.0v1.0h-1.0zM486.6 161.7h1.0v1.0h-1.0zM490.8 158.6h1.0v1.0h-1.0zM483.9 165.7h1.0v1.0h-1.0zM468.9 187.6h1.0v1.0h-1.0zM473.4 176.2h1.0v1.0h-1.0zM475.1 179.7h1.0v1.0h-1.0zM460.0 192.3h1.0v1.0h-1.0zM478.2 170.5h1.0v1.0h-1.0zM464.8 191.8h1.0v1.0h-1.0zM480.5 172.1h1.0v1.0h-1.0zM482.3 161.3h1.0v1.0h-1.0zM488.7 164.2h1.0v1.0h-1.0zM464.8 188.2h1.0v1.0h-1.0zM493.0 162.0h1.0v1.0h-1.0zM461.6 188.2h1.0v1.0h-1.0zM461.9 189.0h1.0v1.0h-1.0zM471.0 177.3h1.0v1.0h-1.0zM472.3 191.7h1.0v1.0h-1.0zM524.7 183.2h1.0v1.0h-1.0zM531.3 175.4h1.0v1.0h-1.0zM529.3 173.8h1.0v1.0h-1.0zM527.4 169.9h1.0v1.0h-1.0zM523.1 178.0h1.0v1.0h-1.0zM523.5 167.7h1.0v1.0h-1.0zM524.7 177.5h1.0v1.0h-1.0zM528.7 182.7h1.0v1.0h-1.0zM517.9 180.0h1.0v1.0h-1.0zM527.5 178.6h1.0v1.0h-1.0zM522.2 171.1h1.0v1.0h-1.0zM523.2 173.6h1.0v1.0h-1.0zM523.5 177.3h1.0v1.0h-1.0zM528.1 173.3h1.0v1.0h-1.0zM525.3 172.7h1.0v1.0h-1.0zM525.1 185.3h1.0v1.0h-1.0zM522.6 172.1h1.0v1.0h-1.0zM524.4 179.3h1.0v1.0h-1.0zM522.4 181.7h1.0v1.0h-1.0zM524.5 183.2h1.0v1.0h-1.0zM520.2 183.7h1.0v1.0h-1.0zM528.1 174.3h1.0v1.0h-1.0zM530.2 180.6h1.0v1.0h-1.0zM520.4 172.8h1.0v1.0h-1.0zM522.1 175.3h1.0v1.0h-1.0zM523.6 181.0h1.0v1.0h-1.0zM523.7 177.3h1.0v1.0h-1.0zM521.4 167.0h1.0v1.0h-1.0zM522.2 171.9h1.0v1.0h-1.0zM526.9 164.8h1.0v1.0h-1.0zM527.7 162.2h1.0v1.0h-1.0zM523.7 179.3h1.0v1.0h-1.0zM521.0 173.4h1.0v1.0h-1.0zM526.9 172.7h1.0v1.0h-1.0zM524.0 179.4h1.0v1.0h-1.0zM526.2 171.7h1.0v1.0h-1.0zM528.2 178.3h1.0v1.0h-1.0zM527.3 170.8h1.0v1.0h-1.0zM527.5 178.6h1.0v1.0h-1.0zM526.6 175.4h1.0v1.0h-1.0zM526.9 179.4h1.0v1.0h-1.0zM518.6 194.1h1.0v1.0h-1.0zM522.3 182.0h1.0v1.0h-1.0zM523.7 176.5h1.0v1.0h-1.0zM523.2 184.7h1.0v1.0h-1.0zM527.1 184.7h1.0v1.0h-1.0zM519.4 184.0h1.0v1.0h-1.0zM519.8 193.0h1.0v1.0h-1.0zM525.4 186.0h1.0v1.0h-1.0zM524.3 180.0h1.0v1.0h-1.0zM522.2 191.1h1.0v1.0h-1.0zM523.3 185.7h1.0v1.0h-1.0zM521.9 178.3h1.0v1.0h-1.0zM523.1 178.5h1.0v1.0h-1.0zM522.8 183.0h1.0v1.0h-1.0zM526.3 169.6h1.0v1.0h-1.0zM523.0 171.3h1.0v1.0h-1.0zM527.5 171.7h1.0v1.0h-1.0zM525.7 180.1h1.0v1.0h-1.0zM524.1 167.5h1.0v1.0h-1.0zM529.4 178.3h1.0v1.0h-1.0zM526.3 185.5h1.0v1.0h-1.0zM521.3 173.2h1.0v1.0h-1.0zM529.4 190.8h1.0v1.0h-1.0zM521.8 178.7h1.0v1.0h-1.0zM527.1 178.3h1.0v1.0h-1.0zM528.2 182.8h1.0v1.0h-1.0zM524.1 183.2h1.0v1.0h-1.0zM522.9 186.8h1.0v1.0h-1.0zM522.3 187.0h1.0v1.0h-1.0zM531.8 168.7h1.0v1.0h-1.0zM529.4 170.3h1.0v1.0h-1.0zM524.1 190.2h1.0v1.0h-1.0zM527.5 183.2h1.0v1.0h-1.0zM525.4 180.3h1.0v1.0h-1.0zM525.7 178.0h1.0v1.0h-1.0zM523.4 171.8h1.0v1.0h-1.0zM529.5 179.1h1.0v1.0h-1.0zM530.0 183.7h1.0v1.0h-1.0zM525.7 172.6h1.0v1.0h-1.0zM523.5 179.5h1.0v1.0h-1.0zM523.9 177.4h1.0v1.0h-1.0zM517.5 176.8h1.0v1.0h-1.0zM523.5 176.3h1.0v1.0h-1.0zM523.4 169.8h1.0v1.0h-1.0zM521.7 188.1h1.0v1.0h-1.0zM521.5 176.1h1.0v1.0h-1.0zM521.8 178.2h1.0v1.0h-1.0zM522.7 191.2h1.0v1.0h-1.0zM521.2 187.4h1.0v1.0h-1.0zM507.2 134.7h1.0v1.0h-1.0zM494.1 174.1h1.0v1.0h-1.0zM521.1 175.1h1.0v1.0h-1.0zM515.2 128.2h1.0v1.0h-1.0zM499.9 127.5h1.0v1.0h-1.0zM516.0 156.7h1.0v1.0h-1.0zM528.4 140.1h1.0v1.0h-1.0zM502.4 136.3h1.0v1.0h-1.0zM499.3 126.5h1.0v1.0h-1.0zM511.8 146.4h1.0v1.0h-1.0zM525.1 226.5h1.0v1.0h-1.0zM520.8 212.6h1.0v1.0h-1.0zM538.1 131.5h1.0v1.0h-1.0zM498.3 188.2h1.0v1.0h-1.0zM565.1 125.6h1.0v1.0h-1.0zM551.5 146.0h1.0v1.0h-1.0zM550.3 213.3h1.0v1.0h-1.0zM553.4 147.4h1.0v1.0h-1.0zM439.4 229.6h1.0v1.0h-1.0zM484.9 226.5h1.0v1.0h-1.0zM462.5 163.7h1.0v1.0h-1.0zM452.1 225.5h1.0v1.0h-1.0z" fill="#5656ff" fill-opacity="0.32" stroke="none"/>
<path d="M525.3 106.4h1.0v1.0h-1.0zM529.0 107.0h1.0v1.0h-1.0zM522.2 106.3h1.0v1.0h-1.0zM521.7 107.0h1.0v1.0h-1.0zM519.2 107.1h1.0v1.0h-1.0zM522.3 103.9h1.0v1.0h-1.0zM522.0 105.0h1.0v1.0h-1.0zM517.9 107.4h1.0v1.0h-1.0zM522.6 111.5h1.0v1.0h-1.0zM523.1 108.6h1.0v1.0h-1.0zM523.1 104.9h1.0v1.0h-1.0zM519.5 103.8h1.0v1.0h-1.0zM521.4 97.1h1.0v1.0h-1.0zM522.3 102.9h1.0v1.0h-1.0zM524.1 108.9h1.0v1.0h-1.0zM522.3 109.4h1.0v1.0h-1.0zM526.9 108.0h1.0v1.0h-1.0zM522.2 105.7h1.0v1.0h-1.0zM528.1 110.7h1.0v1.0h-1.0zM526.6 99.5h1.0v1.0h-1.0zM516.3 111.5h1.0v1.0h-1.0zM525.3 110.0h1.0v1.0h-1.0zM524.9 104.4h1.0v1.0h-1.0zM524.6 105.2h1.0v1.0h-1.0zM527.7 108.3h1.0v1.0h-1.0zM520.3 102.8h1.0v1.0h-1.0zM526.2 108.4h1.0v1.0h-1.0zM524.0 106.6h1.0v1.0h-1.0zM519.4 102.5h1.0v1.0h-1.0zM524.8 99.2h1.0v1.0h-1.0zM524.7 107.4h1.0v1.0h-1.0zM525.2 108.3h1.0v1.0h-1.0zM528.9 106.4h1.0v1.0h-1.0zM520.7 99.6h1.0v1.0h-1.0zM516.4 105.7h1.0v1.0h-1.0zM525.9 99.7h1.0v1.0h-1.0zM523.7 103.0h1.0v1.0h-1.0zM522.4 106.2h1.0v1.0h-1.0zM523.3 101.4h1.0v1.0h-1.0zM525.5 105.0h1.0v1.0h-1.0zM517.5 108.1h1.0v1.0h-1.0zM527.9 104.1h1.0v1.0h-1.0zM528.0 100.0h1.0v1.0h-1.0zM522.4 109.9h1.0v1.0h-1.0zM527.2 107.2h1.0v1.0h-1.0zM522.3 105.9h1.0v1.0h-1.0zM521.7 109.5h1.0v1.0h-1.0zM522.1 108.0h1.0v1.0h-1.0zM521.9 108.1h1.0v1.0h-1.0zM521.5 102.9h1.0v1.0h-1.0zM521.5 104.5h1.0v1.0h-1.0zM519.7 107.1h1.0v1.0h-1.0zM520.9 103.5h1.0v1.0h-1.0zM519.5 107.6h1.0v1.0h-1.0zM519.7 107.0h1.0v1.0h-1.0zM520.8 107.5h1.0v1.0h-1.0zM519.4 107.4h1.0v1.0h-1.0zM521.5 103.6h1.0v1.0h-1.0zM521.8 104.3h1.0v1.0h-1.0zM521.1 108.6h1.0v1.0h-1.0zM521.6 103.9h1.0v1.0h-1.0zM518.8 103.9h1.0v1.0h-1.0zM521.4 107.3h1.0v1.0h-1.0zM517.1 108.9h1.0v1.0h-1.0zM522.6 105.6h1.0v1.0h-1.0zM520.3 107.6h1.0v1.0h-1.0zM518.6 105.8h1.0v1.0h-1.0zM521.4 106.1h1.0v1.0h-1.0zM520.4 107.2h1.0v1.0h-1.0zM523.5 107.6h1.0v1.0h-1.0zM521.0 105.7h1.0v1.0h-1.0zM522.6 107.1h1.0v1.0h-1.0zM520.4 110.4h1.0v1.0h-1.0zM522.8 104.5h1.0v1.0h-1.0zM519.8 110.3h1.0v1.0h-1.0zM519.6 111.1h1.0v1.0h-1.0zM520.1 112.0h1.0v1.0h-1.0zM518.6 101.9h1.0v1.0h-1.0zM517.8 112.1h1.0v1.0h-1.0zM519.1 105.8h1.0v1.0h-1.0zM519.4 105.0h1.0v1.0h-1.0zM520.7 107.3h1.0v1.0h-1.0zM519.3 105.6h1.0v1.0h-1.0zM522.8 109.4h1.0v1.0h-1.0zM522.2 110.2h1.0v1.0h-1.0zM511.7 114.1h1.0v1.0h-1.0zM496.7 115.5h1.0v1.0h-1.0zM506.4 114.5h1.0v1.0h-1.0zM503.8 117.7h1.0v1.0h-1.0zM505.2 118.9h1.0v1.0h-1.0zM491.8 121.0h1.0v1.0h-1.0zM517.5 109.1h1.0v1.0h-1.0zM490.6 121.4h1.0v1.0h-1.0zM500.9 114.7h1.0v1.0h-1.0zM504.3 114.2h1.0v1.0h-1.0zM513.9 109.7h1.0v1.0h-1.0zM487.2 128.6h1.0v1.0h-1.0zM505.9 114.5h1.0v1.0h-1.0zM497.0 121.6h1.0v1.0h-1.0zM515.0 111.2h1.0v1.0h-1.0zM517.2 107.1h1.0v1.0h-1.0zM500.0 114.7h1.0v1.0h-1.0zM507.2 111.8h1.0v1.0h-1.0zM508.5 111.2h1.0v1.0h-1.0zM493.6 115.6h1.0v1.0h-1.0zM522.3 175.5h1.0v1.0h-1.0zM524.3 175.6h1.0v1.0h-1.0zM522.7 182.2h1.0v1.0h-1.0zM523.8 172.3h1.0v1.0h-1.0zM526.0 188.6h1.0v1.0h-1.0zM526.3 178.4h1.0v1.0h-1.0zM526.7 178.8h1.0v1.0h-1.0zM523.5 180.2h1.0v1.0h-1.0zM526.6 179.6h1.0v1.0h-1.0zM523.6 173.3h1.0v1.0h-1.0zM524.5 174.6h1.0v1.0h-1.0zM524.0 173.3h1.0v1.0h-1.0zM522.5 175.0h1.0v1.0h-1.0zM522.9 174.3h1.0v1.0h-1.0zM526.5 182.4h1.0v1.0h-1.0zM523.5 174.7h1.0v1.0h-1.0zM526.2 178.1h1.0v1.0h-1.0zM525.2 183.3h1.0v1.0h-1.0zM523.4 181.0h1.0v1.0h-1.0zM525.0 177.3h1.0v1.0h-1.0zM523.8 176.5h1.0v1.0h-1.0zM517.7 177.5h1.0v1.0h-1.0zM527.3 183.4h1.0v1.0h-1.0zM529.3 179.4h1.0v1.0h-1.0zM525.8 176.5h1.0v1.0h-1.0zM522.7 175.5h1.0v1.0h-1.0zM525.0 182.4h1.0v1.0h-1.0zM520.5 182.1h1.0v1.0h-1.0zM525.9 182.4h1.0v1.0h-1.0zM521.7 180.0h1.0v1.0h-1.0zM524.8 173.5h1.0v1.0h-1.0zM522.0 188.4h1.0v1.0h-1.0zM522.9 177.1h1.0v1.0h-1.0zM520.4 176.5h1.0v1.0h-1.0zM526.7 180.7h1.0v1.0h-1.0zM522.5 179.3h1.0v1.0h-1.0zM524.8 181.6h1.0v1.0h-1.0zM522.3 180.7h1.0v1.0h-1.0zM522.9 177.0h1.0v1.0h-1.0zM522.5 175.7h1.0v1.0h-1.0zM525.1 171.7h1.0v1.0h-1.0zM524.5 190.5h1.0v1.0h-1.0zM522.5 177.9h1.0v1.0h-1.0zM524.0 185.6h1.0v1.0h-1.0zM521.4 181.5h1.0v1.0h-1.0zM524.0 187.3h1.0v1.0h-1.0zM523.8 187.5h1.0v1.0h-1.0zM522.3 180.6h1.0v1.0h-1.0zM522.1 176.6h1.0v1.0h-1.0zM521.8 177.4h1.0v1.0h-1.0zM527.1 176.9h1.0v1.0h-1.0zM528.8 185.8h1.0v1.0h-1.0zM524.7 179.1h1.0v1.0h-1.0zM524.7 175.9h1.0v1.0h-1.0zM525.3 179.5h1.0v1.0h-1.0zM520.4 179.2h1.0v1.0h-1.0zM525.2 179.3h1.0v1.0h-1.0zM524.7 179.1h1.0v1.0h-1.0zM523.2 183.5h1.0v1.0h-1.0zM526.8 177.8h1.0v1.0h-1.0zM525.7 174.6h1.0v1.0h-1.0zM526.5 175.6h1.0v1.0h-1.0zM524.2 183.0h1.0v1.0h-1.0zM523.2 179.3h1.0v1.0h-1.0zM526.0 176.8h1.0v1.0h-1.0zM524.8 183.6h1.0v1.0h-1.0zM524.6 175.8h1.0v1.0h-1.0zM523.4 178.0h1.0v1.0h-1.0zM524.2 181.7h1.0v1.0h-1.0zM521.2 178.8h1.0v1.0h-1.0zM524.5 185.4h1.0v1.0h-1.0zM521.4 175.4h1.0v1.0h-1.0zM525.8 178.9h1.0v1.0h-1.0zM526.2 178.9h1.0v1.0h-1.0zM522.9 178.8h1.0v1.0h-1.0zM526.5 182.1h1.0v1.0h-1.0zM524.5 179.7h1.0v1.0h-1.0zM526.2 181.7h1.0v1.0h-1.0zM524.6 182.1h1.0v1.0h-1.0zM524.3 174.5h1.0v1.0h-1.0zM525.8 184.1h1.0v1.0h-1.0zM526.7 178.8h1.0v1.0h-1.0zM521.9 180.8h1.0v1.0h-1.0zM523.0 171.3h1.0v1.0h-1.0zM524.4 175.9h1.0v1.0h-1.0zM524.3 177.1h1.0v1.0h-1.0zM525.7 182.6h1.0v1.0h-1.0zM525.1 183.9h1.0v1.0h-1.0zM523.1 188.8h1.0v1.0h-1.0zM520.9 182.1h1.0v1.0h-1.0zM526.1 177.4h1.0v1.0h-1.0zM524.4 174.1h1.0v1.0h-1.0zM523.3 180.3h1.0v1.0h-1.0zM521.8 171.0h1.0v1.0h-1.0zM523.5 175.6h1.0v1.0h-1.0zM522.3 178.4h1.0v1.0h-1.0zM521.6 183.6h1.0v1.0h-1.0zM526.3 179.2h1.0v1.0h-1.0zM523.0 178.8h1.0v1.0h-1.0zM523.9 175.8h1.0v1.0h-1.0zM522.9 180.8h1.0v1.0h-1.0zM522.4 176.4h1.0v1.0h-1.0zM523.3 175.0h1.0v1.0h-1.0zM524.6 173.8h1.0v1.0h-1.0zM525.8 182.0h1.0v1.0h-1.0zM524.1 182.5h1.0v1.0h-1.0zM526.2 177.5h1.0v1.0h-1.0zM524.0 176.6h1.0v1.0h-1.0zM523.4 177.5h1.0v1.0h-1.0zM524.3 181.2h1.0v1.0h-1.0zM528.2 180.4h1.0v1.0h-1.0zM525.9 178.1h1.0v1.0h-1.0zM527.2 179.5h1.0v1.0h-1.0zM523.8 177.9h1.0v1.0h-1.0zM524.2 177.4h1.0v1.0h-1.0zM524.5 186.3h1.0v1.0h-1.0zM524.2 176.0h1.0v1.0h-1.0zM520.7 178.6h1.0v1.0h-1.0zM522.3 175.9h1.0v1.0h-1.0zM524.4 180.4h1.0v1.0h-1.0zM525.0 183.7h1.0v1.0h-1.0zM522.4 176.4h1.0v1.0h-1.0zM522.5 174.9h1.0v1.0h-1.0zM522.9 175.6h1.0v1.0h-1.0zM525.4 174.7h1.0v1.0h-1.0zM528.2 170.6h1.0v1.0h-1.0zM525.6 172.6h1.0v1.0h-1.0zM523.2 174.0h1.0v1.0h-1.0zM524.1 181.0h1.0v1.0h-1.0zM523.3 176.3h1.0v1.0h-1.0zM522.3 175.6h1.0v1.0h-1.0zM522.5 176.2h1.0v1.0h-1.0zM524.2 182.6h1.0v1.0h-1.0zM522.8 170.7h1.0v1.0h-1.0zM523.4 182.3h1.0v1.0h-1.0zM522.2 180.4h1.0v1.0h-1.0zM522.0 173.8h1.0v1.0h-1.0zM524.5 171.4h1.0v1.0h-1.0zM523.3 167.9h1.0v1.0h-1.0zM522.1 180.4h1.0v1.0h-1.0zM523.1 176.0h1.0v1.0h-1.0zM525.0 175.2h1.0v1.0h-1.0zM521.9 177.2h1.0v1.0h-1.0zM523.9 179.5h1.0v1.0h-1.0zM523.7 183.7h1.0v1.0h-1.0zM525.1 178.3h1.0v1.0h-1.0zM528.3 172.5h1.0v1.0h-1.0zM524.5 175.7h1.0v1.0h-1.0zM528.0 180.0h1.0v1.0h-1.0zM525.6 180.5h1.0v1.0h-1.0z" fill="#2438ff" fill-opacity="0.55" stroke="none"/>
<g filter="url(#b1)">
<ellipse cx="521.60" cy="106.20" rx="2.60" ry="3.00" fill="#1434ff" fill-opacity="0.75" stroke="none" transform="rotate(-30 521.60 106.20)"/>
<ellipse cx="525.30" cy="103.20" rx="5.10" ry="4.60" fill="#1434ff" fill-opacity="0.95" stroke="none" transform="rotate(-20 525.30 103.20)"/>
<ellipse cx="525.80" cy="102.80" rx="4.80" ry="4.30" fill="#00b0ff" fill-opacity="1" stroke="none" transform="rotate(-20 525.80 102.80)"/>
<ellipse cx="525.80" cy="102.80" rx="4.45" ry="3.95" fill="#18dcb0" fill-opacity="1" stroke="none" transform="rotate(-20 525.80 102.80)"/>
<ellipse cx="525.80" cy="102.80" rx="4.10" ry="3.60" fill="#62e426" fill-opacity="1" stroke="none" transform="rotate(-20 525.80 102.80)"/>
<ellipse cx="525.90" cy="102.80" rx="3.00" ry="2.80" fill="#f2ee00" fill-opacity="1" stroke="none" transform="rotate(-20 525.90 102.80)"/>
<ellipse cx="525.90" cy="102.80" rx="2.40" ry="2.30" fill="#ff8400" fill-opacity="1" stroke="none" transform="rotate(-20 525.90 102.80)"/>
<ellipse cx="525.90" cy="102.80" rx="1.90" ry="1.90" fill="#ff1a0c" fill-opacity="1" stroke="none" transform="rotate(-20 525.90 102.80)"/>
<ellipse cx="524.10" cy="179.00" rx="2.90" ry="5.80" fill="#2a3aff" fill-opacity="0.5" stroke="none"/>
<ellipse cx="524.10" cy="179.20" rx="2.20" ry="4.60" fill="#1434ff" fill-opacity="1" stroke="none"/>
</g>
<line x1="492.40" y1="81.00" x2="492.40" y2="236.20" stroke="#1c1c1c" stroke-width="1.35"/>
<line x1="422.70" y1="154.85" x2="577.20" y2="154.85" stroke="#222" stroke-width="1.45"/>
<text x="422.90" y="86.60" font-size="5.75" text-anchor="start" >Q1-R1</text>
<text x="422.70" y="92.60" font-size="5.05" text-anchor="start" >% Parent: 0.09</text>
<text x="576.60" y="86.25" font-size="5.85" text-anchor="end" >CD45+CD34+</text>
<text x="576.70" y="92.45" font-size="5.0" text-anchor="end" >% Parent: 94.33</text>
<text x="422.90" y="228.40" font-size="5.75" text-anchor="start" >Q1-R3</text>
<text x="423.00" y="234.80" font-size="5.05" text-anchor="start" >% Parent: 0.21</text>
<text x="542.80" y="228.15" font-size="5.8" text-anchor="start" >CD45+</text>
<text x="576.60" y="234.80" font-size="5.0" text-anchor="end" >% Parent: 5.39</text>
<text x="499.10" y="79.90" font-size="6.7" text-anchor="middle" >Live</text>
<line x1="419.70" y1="102.60" x2="422.90" y2="102.60" stroke="#1a1a1a" stroke-width="0.85"/>
<text x="415.10" y="104.20" font-size="4.5" text-anchor="middle">10<tspan dy="-1.7" font-size="3.0">6</tspan></text>
<line x1="419.70" y1="137.00" x2="422.90" y2="137.00" stroke="#1a1a1a" stroke-width="0.85"/>
<text x="415.10" y="138.60" font-size="4.5" text-anchor="middle">10<tspan dy="-1.7" font-size="3.0">5</tspan></text>
<line x1="419.70" y1="171.30" x2="422.90" y2="171.30" stroke="#1a1a1a" stroke-width="0.85"/>
<text x="415.10" y="172.90" font-size="4.5" text-anchor="middle">10<tspan dy="-1.7" font-size="3.0">4</tspan></text>
<line x1="419.70" y1="205.60" x2="422.90" y2="205.60" stroke="#1a1a1a" stroke-width="0.85"/>
<text x="415.10" y="207.20" font-size="4.5" text-anchor="middle">10<tspan dy="-1.7" font-size="3.0">3</tspan></text>
<line x1="419.70" y1="230.60" x2="422.90" y2="230.60" stroke="#1a1a1a" stroke-width="0.85"/>
<text x="415.10" y="232.20" font-size="4.5" text-anchor="middle">10<tspan dy="-1.7" font-size="3.0">2</tspan></text>
<line x1="428.60" y1="236.00" x2="428.60" y2="238.90" stroke="#1a1a1a" stroke-width="0.8"/>
<text x="428.60" y="246.20" font-size="4.5" text-anchor="middle">10<tspan dy="-1.7" font-size="3.0">2</tspan></text>
<line x1="453.60" y1="236.00" x2="453.60" y2="238.90" stroke="#1a1a1a" stroke-width="0.8"/>
<text x="453.60" y="246.20" font-size="4.5" text-anchor="middle">10<tspan dy="-1.7" font-size="3.0">3</tspan></text>
<line x1="487.80" y1="236.00" x2="487.80" y2="238.90" stroke="#1a1a1a" stroke-width="0.8"/>
<text x="487.80" y="246.20" font-size="4.5" text-anchor="middle">10<tspan dy="-1.7" font-size="3.0">4</tspan></text>
<line x1="521.60" y1="236.00" x2="521.60" y2="238.90" stroke="#1a1a1a" stroke-width="0.8"/>
<text x="521.60" y="246.20" font-size="4.5" text-anchor="middle">10<tspan dy="-1.7" font-size="3.0">5</tspan></text>
<line x1="555.70" y1="236.00" x2="555.70" y2="238.90" stroke="#1a1a1a" stroke-width="0.8"/>
<text x="555.70" y="246.20" font-size="4.5" text-anchor="middle">10<tspan dy="-1.7" font-size="3.0">6</tspan></text>
<line x1="463.90" y1="236.00" x2="463.90" y2="237.60" stroke="#444" stroke-width="0.6"/>
<line x1="469.92" y1="236.00" x2="469.92" y2="237.60" stroke="#444" stroke-width="0.6"/>
<line x1="474.19" y1="236.00" x2="474.19" y2="237.60" stroke="#444" stroke-width="0.6"/>
<line x1="477.50" y1="236.00" x2="477.50" y2="237.60" stroke="#444" stroke-width="0.6"/>
<line x1="480.21" y1="236.00" x2="480.21" y2="237.60" stroke="#444" stroke-width="0.6"/>
<line x1="482.50" y1="236.00" x2="482.50" y2="237.60" stroke="#444" stroke-width="0.6"/>
<line x1="484.49" y1="236.00" x2="484.49" y2="237.60" stroke="#444" stroke-width="0.6"/>
<line x1="486.24" y1="236.00" x2="486.24" y2="237.60" stroke="#444" stroke-width="0.6"/>
<line x1="498.10" y1="236.00" x2="498.10" y2="237.60" stroke="#444" stroke-width="0.6"/>
<line x1="504.12" y1="236.00" x2="504.12" y2="237.60" stroke="#444" stroke-width="0.6"/>
<line x1="508.39" y1="236.00" x2="508.39" y2="237.60" stroke="#444" stroke-width="0.6"/>
<line x1="511.70" y1="236.00" x2="511.70" y2="237.60" stroke="#444" stroke-width="0.6"/>
<line x1="514.41" y1="236.00" x2="514.41" y2="237.60" stroke="#444" stroke-width="0.6"/>
<line x1="516.70" y1="236.00" x2="516.70" y2="237.60" stroke="#444" stroke-width="0.6"/>
<line x1="518.69" y1="236.00" x2="518.69" y2="237.60" stroke="#444" stroke-width="0.6"/>
<line x1="520.44" y1="236.00" x2="520.44" y2="237.60" stroke="#444" stroke-width="0.6"/>
<line x1="531.90" y1="236.00" x2="531.90" y2="237.60" stroke="#444" stroke-width="0.6"/>
<line x1="537.92" y1="236.00" x2="537.92" y2="237.60" stroke="#444" stroke-width="0.6"/>
<line x1="542.19" y1="236.00" x2="542.19" y2="237.60" stroke="#444" stroke-width="0.6"/>
<line x1="545.50" y1="236.00" x2="545.50" y2="237.60" stroke="#444" stroke-width="0.6"/>
<line x1="548.21" y1="236.00" x2="548.21" y2="237.60" stroke="#444" stroke-width="0.6"/>
<line x1="550.50" y1="236.00" x2="550.50" y2="237.60" stroke="#444" stroke-width="0.6"/>
<line x1="552.49" y1="236.00" x2="552.49" y2="237.60" stroke="#444" stroke-width="0.6"/>
<line x1="554.24" y1="236.00" x2="554.24" y2="237.60" stroke="#444" stroke-width="0.6"/>
<line x1="566.00" y1="236.00" x2="566.00" y2="237.60" stroke="#444" stroke-width="0.6"/>
<line x1="572.02" y1="236.00" x2="572.02" y2="237.60" stroke="#444" stroke-width="0.6"/>
<line x1="576.29" y1="236.00" x2="576.29" y2="237.60" stroke="#444" stroke-width="0.6"/>
<line x1="436.13" y1="236.00" x2="436.13" y2="237.60" stroke="#444" stroke-width="0.6"/>
<line x1="440.53" y1="236.00" x2="440.53" y2="237.60" stroke="#444" stroke-width="0.6"/>
<line x1="443.65" y1="236.00" x2="443.65" y2="237.60" stroke="#444" stroke-width="0.6"/>
<line x1="446.07" y1="236.00" x2="446.07" y2="237.60" stroke="#444" stroke-width="0.6"/>
<line x1="448.05" y1="236.00" x2="448.05" y2="237.60" stroke="#444" stroke-width="0.6"/>
<line x1="449.73" y1="236.00" x2="449.73" y2="237.60" stroke="#444" stroke-width="0.6"/>
<line x1="451.18" y1="236.00" x2="451.18" y2="237.60" stroke="#444" stroke-width="0.6"/>
<line x1="452.46" y1="236.00" x2="452.46" y2="237.60" stroke="#444" stroke-width="0.6"/>
<line x1="421.20" y1="195.30" x2="422.90" y2="195.30" stroke="#444" stroke-width="0.6"/>
<line x1="421.20" y1="189.28" x2="422.90" y2="189.28" stroke="#444" stroke-width="0.6"/>
<line x1="421.20" y1="185.01" x2="422.90" y2="185.01" stroke="#444" stroke-width="0.6"/>
<line x1="421.20" y1="181.70" x2="422.90" y2="181.70" stroke="#444" stroke-width="0.6"/>
<line x1="421.20" y1="178.99" x2="422.90" y2="178.99" stroke="#444" stroke-width="0.6"/>
<line x1="421.20" y1="176.70" x2="422.90" y2="176.70" stroke="#444" stroke-width="0.6"/>
<line x1="421.20" y1="174.71" x2="422.90" y2="174.71" stroke="#444" stroke-width="0.6"/>
<line x1="421.20" y1="172.96" x2="422.90" y2="172.96" stroke="#444" stroke-width="0.6"/>
<line x1="421.20" y1="161.00" x2="422.90" y2="161.00" stroke="#444" stroke-width="0.6"/>
<line x1="421.20" y1="154.98" x2="422.90" y2="154.98" stroke="#444" stroke-width="0.6"/>
<line x1="421.20" y1="150.71" x2="422.90" y2="150.71" stroke="#444" stroke-width="0.6"/>
<line x1="421.20" y1="147.40" x2="422.90" y2="147.40" stroke="#444" stroke-width="0.6"/>
<line x1="421.20" y1="144.69" x2="422.90" y2="144.69" stroke="#444" stroke-width="0.6"/>
<line x1="421.20" y1="142.40" x2="422.90" y2="142.40" stroke="#444" stroke-width="0.6"/>
<line x1="421.20" y1="140.41" x2="422.90" y2="140.41" stroke="#444" stroke-width="0.6"/>
<line x1="421.20" y1="138.66" x2="422.90" y2="138.66" stroke="#444" stroke-width="0.6"/>
<line x1="421.20" y1="126.70" x2="422.90" y2="126.70" stroke="#444" stroke-width="0.6"/>
<line x1="421.20" y1="120.68" x2="422.90" y2="120.68" stroke="#444" stroke-width="0.6"/>
<line x1="421.20" y1="116.41" x2="422.90" y2="116.41" stroke="#444" stroke-width="0.6"/>
<line x1="421.20" y1="113.10" x2="422.90" y2="113.10" stroke="#444" stroke-width="0.6"/>
<line x1="421.20" y1="110.39" x2="422.90" y2="110.39" stroke="#444" stroke-width="0.6"/>
<line x1="421.20" y1="108.10" x2="422.90" y2="108.10" stroke="#444" stroke-width="0.6"/>
<line x1="421.20" y1="106.11" x2="422.90" y2="106.11" stroke="#444" stroke-width="0.6"/>
<line x1="421.20" y1="104.36" x2="422.90" y2="104.36" stroke="#444" stroke-width="0.6"/>
<line x1="421.20" y1="92.30" x2="422.90" y2="92.30" stroke="#444" stroke-width="0.6"/>
<line x1="421.20" y1="86.28" x2="422.90" y2="86.28" stroke="#444" stroke-width="0.6"/>
<line x1="421.20" y1="82.01" x2="422.90" y2="82.01" stroke="#444" stroke-width="0.6"/>
<line x1="421.20" y1="223.07" x2="422.90" y2="223.07" stroke="#444" stroke-width="0.6"/>
<line x1="421.20" y1="218.67" x2="422.90" y2="218.67" stroke="#444" stroke-width="0.6"/>
<line x1="421.20" y1="215.55" x2="422.90" y2="215.55" stroke="#444" stroke-width="0.6"/>
<line x1="421.20" y1="213.13" x2="422.90" y2="213.13" stroke="#444" stroke-width="0.6"/>
<line x1="421.20" y1="211.15" x2="422.90" y2="211.15" stroke="#444" stroke-width="0.6"/>
<line x1="421.20" y1="209.47" x2="422.90" y2="209.47" stroke="#444" stroke-width="0.6"/>
<line x1="421.20" y1="208.02" x2="422.90" y2="208.02" stroke="#444" stroke-width="0.6"/>
<line x1="421.20" y1="206.74" x2="422.90" y2="206.74" stroke="#444" stroke-width="0.6"/>
<path d="M421.3 230.2h1.6v6.3h-1.6zM419.9 230.0h1.5v0.9h-1.5zM419.9 235.6h1.5v0.9h-1.5zM422.6 235.9h6.5v1.35h-6.5zM422.7 237.2h0.9v1.7h-0.9zM428.2 237.2h0.9v1.7h-0.9z" fill="#111" stroke="none"/>
<text x="499.60" y="255.60" font-size="5.75" text-anchor="middle" >FITC-A</text>
<text x="0.00" y="0.00" font-size="5.75" text-anchor="middle" transform="translate(406.1 158.9) rotate(-90)">PE-A</text>
</svg>
<div class="cap">
<div id="l1a" style="top:274.4px"><b>Figure 1.</b></div>
<div id="l1" style="top:274.4px;left:92.3px;letter-spacing:0.865px">Representative dot plots for viability and CD34 gating strategy</div>
<div id="l2" style="top:293.1px;letter-spacing:0.67px">with TruCytes&#8482; CD34+ Stem Cell Gating Control (SL-00046). The product</div>
<div id="l3" style="top:311.7px;letter-spacing:0.677px">was stained using anti-CD34 PE, anti-CD45 FITC and 7-AAD viability dye.</div>
</div>
</body></html>
